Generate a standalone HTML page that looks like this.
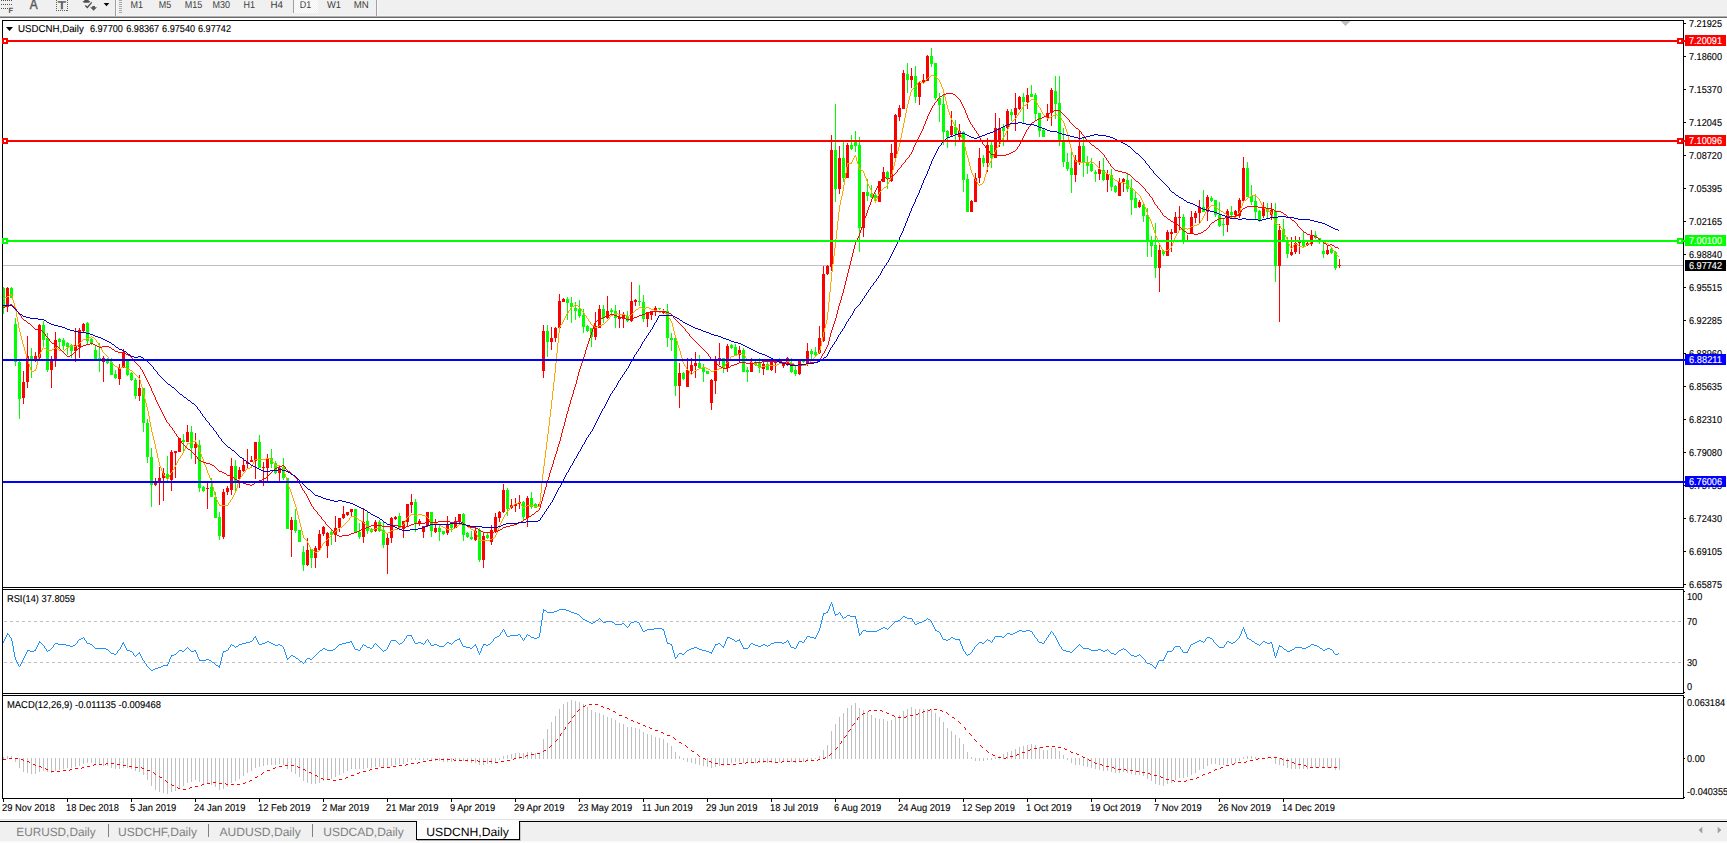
<!DOCTYPE html><html><head><meta charset="utf-8"><title>USDCNH,Daily</title>
<style>html,body{margin:0;padding:0;background:#fff}body{width:1727px;height:843px;overflow:hidden}svg{display:block}text{font-family:"Liberation Sans",sans-serif;text-rendering:geometricPrecision}</style></head><body>
<svg width="1727" height="843" viewBox="0 0 1727 843">
<rect width="1727" height="843" fill="#fff"/>
<g id="toolbar">
<rect x="0" y="0" width="1727" height="15" fill="#f0f0f0"/>
<rect x="0" y="15" width="1727" height="1" fill="#f4f4f4" shape-rendering="crispEdges"/>
<rect x="0" y="16" width="1727" height="1" fill="#b0b0b0" shape-rendering="crispEdges"/>
<rect x="0" y="17" width="1727" height="1" fill="#696969" shape-rendering="crispEdges"/>
<rect x="115" y="0" width="1" height="16" fill="#a0a0a0" shape-rendering="crispEdges"/><rect x="116" y="0" width="1" height="15" fill="#fafafa" shape-rendering="crispEdges"/>
<rect x="119" y="0" width="3" height="1" fill="#a8a8a8" shape-rendering="crispEdges"/>
<rect x="119" y="2" width="3" height="1" fill="#a8a8a8" shape-rendering="crispEdges"/>
<rect x="119" y="4" width="3" height="1" fill="#a8a8a8" shape-rendering="crispEdges"/>
<rect x="119" y="6" width="3" height="1" fill="#a8a8a8" shape-rendering="crispEdges"/>
<rect x="119" y="8" width="3" height="1" fill="#a8a8a8" shape-rendering="crispEdges"/>
<rect x="119" y="10" width="3" height="1" fill="#a8a8a8" shape-rendering="crispEdges"/>
<rect x="119" y="12" width="3" height="1" fill="#a8a8a8" shape-rendering="crispEdges"/>
<defs><pattern id="chk" width="2" height="2" patternUnits="userSpaceOnUse"><rect width="2" height="2" fill="#f0f0f0"/><rect width="1" height="1" fill="#fff"/><rect x="1" y="1" width="1" height="1" fill="#fff"/></pattern></defs>
<rect x="294" y="0" width="24" height="13" fill="url(#chk)" shape-rendering="crispEdges"/>
<rect x="293" y="0" width="1" height="13" fill="#a0a0a0" shape-rendering="crispEdges"/>
<rect x="376" y="0" width="1" height="16" fill="#a0a0a0" shape-rendering="crispEdges"/><rect x="377" y="0" width="1" height="15" fill="#fafafa" shape-rendering="crispEdges"/>
<text x="130.5" y="7.9" font-size="10" fill="#3c3c3c" textLength="12.5" lengthAdjust="spacingAndGlyphs">M1</text>
<text x="158.8" y="7.9" font-size="10" fill="#3c3c3c" textLength="12.5" lengthAdjust="spacingAndGlyphs">M5</text>
<text x="184.7" y="7.9" font-size="10" fill="#3c3c3c" textLength="17.5" lengthAdjust="spacingAndGlyphs">M15</text>
<text x="212.5" y="7.9" font-size="10" fill="#3c3c3c" textLength="17.5" lengthAdjust="spacingAndGlyphs">M30</text>
<text x="243.5" y="7.9" font-size="10" fill="#3c3c3c" textLength="11.5" lengthAdjust="spacingAndGlyphs">H1</text>
<text x="270.5" y="7.9" font-size="10" fill="#3c3c3c" textLength="12.5" lengthAdjust="spacingAndGlyphs">H4</text>
<text x="299.7" y="7.9" font-size="10" fill="#3c3c3c" textLength="11.5" lengthAdjust="spacingAndGlyphs">D1</text>
<text x="327" y="7.9" font-size="10" fill="#3c3c3c" textLength="14" lengthAdjust="spacingAndGlyphs">W1</text>
<text x="353.7" y="7.9" font-size="10" fill="#3c3c3c" textLength="15" lengthAdjust="spacingAndGlyphs">MN</text>
<path fill="#505050" shape-rendering="crispEdges" d="M1 0h1v1h-1zM1 4h1v1h-1zM3 0h1v1h-1zM3 4h1v1h-1zM5 0h1v1h-1zM5 4h1v1h-1zM7 0h1v1h-1zM7 4h1v1h-1zM9 0h1v1h-1zM9 4h1v1h-1zM11 0h1v1h-1zM11 4h1v1h-1zM1 8h1v1h-1zM3 8h1v1h-1zM5 8h1v1h-1zM7 8h1v1h-1z"/>
<text x="8.6" y="13.2" font-size="7.5" font-weight="bold" fill="#505050">F</text>
<text x="29.7" y="9" font-size="14.5" fill="#585858" stroke="#585858" stroke-width="0.4" textLength="7.9" lengthAdjust="spacingAndGlyphs">A</text>
<path fill="#606060" shape-rendering="crispEdges" d="M56 0h1v1h-1zM67 0h1v1h-1zM56 2h1v1h-1zM67 2h1v1h-1zM56 4h1v1h-1zM67 4h1v1h-1zM56 6h1v1h-1zM67 6h1v1h-1zM56 8h1v1h-1zM67 8h1v1h-1zM56 10h1v1h-1zM67 10h1v1h-1zM58 10h1v1h-1zM60 10h1v1h-1zM62 10h1v1h-1zM64 10h1v1h-1zM66 10h1v1h-1z"/>
<text x="57.8" y="8.9" font-size="11" fill="#585858" stroke="#585858" stroke-width="0.5" textLength="8.2" lengthAdjust="spacingAndGlyphs">T</text>
<path d="M84.3 0 L88.7 0 L88.7 0.9 L90.2 1.2 L90.2 2 L88.7 2.8 L84.3 2.8 L82.8 2 L82.8 1.2 L84.3 0.9 Z" fill="#505050"/>
<path d="M85.3 5.5 L87.3 7.5 L91.8 2.4" fill="none" stroke="#484848" stroke-width="1.2"/>
<path d="M92.2 6 L95 6 L95 7.2 L97 7.2 L93.6 10.8 L90.1 7.2 L92.2 7.2 Z" fill="#585858"/>
<path d="M103.7 2.9 L109.3 2.9 L106.5 6.2 Z" fill="#000"/>
</g>
<g id="frames" shape-rendering="crispEdges" fill="#000">
<rect x="2" y="20" width="1682" height="1"/>
<rect x="2" y="20" width="1" height="779"/>
<rect x="1683" y="20" width="1" height="779"/>
<rect x="2" y="587" width="1682" height="1"/>
<rect x="2" y="589" width="1682" height="1"/>
<rect x="2" y="693" width="1682" height="1"/>
<rect x="2" y="695" width="1682" height="1"/>
<rect x="2" y="798" width="1682" height="1"/>
<rect x="2" y="588" width="1682" height="1" fill="#fff"/>
<rect x="2" y="694" width="1682" height="1" fill="#fff"/>
</g>
<g id="candles" shape-rendering="crispEdges">
<rect x="3" y="265" width="1680" height="1" fill="#c0c0c0"/>
<path fill="#00ff00" d="M3 287h1v27h-1zM11 287h1v11h-1zM15 318h1v48h-1zM19 361h1v58h-1zM31 348h1v30h-1zM43 321h1v26h-1zM47 333h1v39h-1zM59 338h1v10h-1zM63 338h1v12h-1zM67 342h1v13h-1zM71 344h1v14h-1zM87 322h1v22h-1zM91 338h1v7h-1zM95 345h1v14h-1zM99 343h1v29h-1zM107 358h1v6h-1zM111 358h1v17h-1zM115 370h1v9h-1zM127 360h1v16h-1zM131 372h1v9h-1zM135 378h1v21h-1zM143 388h1v44h-1zM147 419h1v44h-1zM151 448h1v59h-1zM167 456h1v27h-1zM183 434h1v18h-1zM191 426h1v33h-1zM199 440h1v52h-1zM203 486h1v6h-1zM211 478h1v19h-1zM215 492h1v26h-1zM219 512h1v28h-1zM235 460h1v31h-1zM259 435h1v33h-1zM271 449h1v19h-1zM275 461h1v13h-1zM283 458h1v22h-1zM287 478h1v51h-1zM295 509h1v24h-1zM299 530h1v12h-1zM303 546h1v25h-1zM311 549h1v19h-1zM331 530h1v15h-1zM355 509h1v24h-1zM359 523h1v16h-1zM367 511h1v23h-1zM371 528h1v5h-1zM379 520h1v12h-1zM383 522h1v26h-1zM399 513h1v17h-1zM415 499h1v33h-1zM431 512h1v25h-1zM439 526h1v15h-1zM443 531h1v4h-1zM451 522h1v10h-1zM463 513h1v28h-1zM467 532h1v6h-1zM471 531h1v9h-1zM479 528h1v34h-1zM487 533h1v6h-1zM507 488h1v28h-1zM523 501h1v19h-1zM531 492h1v17h-1zM535 503h1v5h-1zM547 325h1v32h-1zM567 297h1v23h-1zM571 297h1v26h-1zM575 302h1v18h-1zM579 300h1v18h-1zM583 309h1v24h-1zM587 325h1v7h-1zM591 328h1v19h-1zM603 305h1v18h-1zM611 308h1v6h-1zM615 305h1v23h-1zM627 311h1v11h-1zM639 285h1v21h-1zM643 295h1v27h-1zM659 308h1v2h-1zM667 304h1v43h-1zM671 333h1v18h-1zM675 338h1v58h-1zM683 372h1v8h-1zM699 355h1v13h-1zM703 364h1v18h-1zM707 371h1v3h-1zM723 358h1v15h-1zM731 344h1v5h-1zM735 344h1v12h-1zM743 348h1v24h-1zM747 367h1v15h-1zM755 360h1v6h-1zM759 358h1v15h-1zM767 362h1v8h-1zM779 358h1v4h-1zM791 358h1v15h-1zM795 366h1v10h-1zM803 359h1v4h-1zM811 349h1v10h-1zM815 347h1v10h-1zM835 104h1v98h-1zM843 142h1v40h-1zM851 135h1v15h-1zM855 131h1v21h-1zM859 137h1v115h-1zM867 179h1v22h-1zM871 185h1v13h-1zM875 193h1v9h-1zM887 171h1v18h-1zM907 63h1v30h-1zM915 66h1v37h-1zM931 48h1v19h-1zM935 63h1v37h-1zM939 93h1v29h-1zM943 94h1v51h-1zM947 130h1v18h-1zM955 120h1v26h-1zM963 131h1v61h-1zM967 174h1v38h-1zM983 155h1v12h-1zM991 141h1v27h-1zM1003 124h1v22h-1zM1011 109h1v12h-1zM1023 93h1v31h-1zM1031 85h1v12h-1zM1035 93h1v27h-1zM1039 113h1v24h-1zM1043 129h1v8h-1zM1055 76h1v43h-1zM1059 76h1v70h-1zM1063 128h1v39h-1zM1067 153h1v18h-1zM1071 151h1v42h-1zM1083 138h1v39h-1zM1087 156h1v18h-1zM1091 158h1v14h-1zM1095 170h1v12h-1zM1103 158h1v23h-1zM1111 169h1v22h-1zM1115 185h1v8h-1zM1127 174h1v18h-1zM1131 179h1v36h-1zM1135 192h1v16h-1zM1143 203h1v19h-1zM1147 208h1v49h-1zM1151 236h1v21h-1zM1155 223h1v55h-1zM1163 250h1v6h-1zM1183 214h1v30h-1zM1203 190h1v22h-1zM1211 196h1v6h-1zM1215 200h1v17h-1zM1219 202h1v25h-1zM1223 218h1v18h-1zM1231 206h1v12h-1zM1247 162h1v35h-1zM1251 185h1v20h-1zM1255 194h1v25h-1zM1259 210h1v12h-1zM1267 203h1v15h-1zM1275 203h1v79h-1zM1283 219h1v22h-1zM1287 237h1v21h-1zM1303 232h1v16h-1zM1315 231h1v8h-1zM1319 238h1v6h-1zM1323 243h1v15h-1zM1331 248h1v6h-1zM1335 251h1v19h-1zM2 288h3v19h-3zM10 288h3v10h-3zM14 324h3v38h-3zM18 362h3v37h-3zM30 356h3v4h-3zM42 325h3v15h-3zM46 338h3v32h-3zM58 339h3v3h-3zM62 340h3v6h-3zM66 343h3v4h-3zM70 345h3v6h-3zM86 323h3v18h-3zM90 339h3v5h-3zM94 350h3v9h-3zM98 358h3v1h-3zM106 360h3v3h-3zM110 362h3v13h-3zM114 374h3v4h-3zM126 361h3v14h-3zM130 373h3v7h-3zM134 380h3v16h-3zM142 388h3v35h-3zM146 423h3v34h-3zM150 457h3v28h-3zM166 474h3v4h-3zM182 440h3v2h-3zM190 432h3v16h-3zM198 445h3v43h-3zM202 487h3v4h-3zM210 487h3v10h-3zM214 497h3v21h-3zM218 517h3v19h-3zM234 466h3v15h-3zM258 442h3v26h-3zM270 458h3v6h-3zM274 463h3v10h-3zM282 467h3v11h-3zM286 478h3v51h-3zM294 520h3v11h-3zM298 530h3v12h-3zM302 552h3v13h-3zM310 549h3v9h-3zM330 532h3v3h-3zM354 509h3v23h-3zM358 532h3v5h-3zM366 521h3v10h-3zM370 529h3v3h-3zM378 522h3v9h-3zM382 530h3v15h-3zM398 516h3v12h-3zM414 502h3v21h-3zM430 512h3v19h-3zM438 528h3v4h-3zM442 531h3v3h-3zM450 524h3v4h-3zM462 514h3v21h-3zM466 533h3v4h-3zM470 537h3v2h-3zM478 530h3v30h-3zM486 535h3v3h-3zM506 490h3v19h-3zM522 502h3v15h-3zM530 498h3v9h-3zM534 504h3v4h-3zM546 331h3v11h-3zM566 299h3v4h-3zM570 303h3v4h-3zM574 308h3v3h-3zM578 309h3v7h-3zM582 315h3v12h-3zM586 326h3v5h-3zM590 328h3v9h-3zM602 309h3v9h-3zM610 310h3v2h-3zM614 311h3v7h-3zM626 316h3v5h-3zM638 301h3v1h-3zM642 302h3v17h-3zM658 308h3v1h-3zM666 311h3v27h-3zM670 338h3v2h-3zM674 338h3v48h-3zM682 373h3v6h-3zM698 363h3v5h-3zM702 367h3v5h-3zM706 371h3v3h-3zM722 358h3v10h-3zM730 345h3v3h-3zM734 347h3v8h-3zM742 350h3v22h-3zM746 370h3v2h-3zM754 362h3v3h-3zM758 363h3v5h-3zM766 364h3v6h-3zM778 359h3v3h-3zM790 363h3v9h-3zM794 370h3v4h-3zM802 360h3v2h-3zM810 351h3v3h-3zM814 352h3v3h-3zM834 150h3v39h-3zM842 158h3v20h-3zM850 145h3v4h-3zM854 142h3v4h-3zM858 145h3v83h-3zM866 192h3v4h-3zM870 194h3v3h-3zM874 195h3v3h-3zM886 172h3v7h-3zM906 74h3v6h-3zM914 76h3v21h-3zM930 56h3v8h-3zM934 63h3v35h-3zM938 98h3v7h-3zM942 104h3v28h-3zM946 131h3v6h-3zM954 127h3v7h-3zM962 132h3v48h-3zM966 179h3v33h-3zM982 158h3v5h-3zM990 145h3v13h-3zM1002 127h3v4h-3zM1010 112h3v3h-3zM1022 97h3v5h-3zM1030 94h3v3h-3zM1034 95h3v19h-3zM1038 113h3v18h-3zM1042 130h3v7h-3zM1054 91h3v13h-3zM1058 103h3v37h-3zM1062 141h3v21h-3zM1066 162h3v7h-3zM1070 168h3v7h-3zM1082 146h3v17h-3zM1086 162h3v4h-3zM1090 164h3v7h-3zM1094 172h3v2h-3zM1102 170h3v10h-3zM1110 175h3v12h-3zM1114 186h3v6h-3zM1126 180h3v9h-3zM1130 188h3v12h-3zM1134 198h3v10h-3zM1142 205h3v11h-3zM1146 215h3v26h-3zM1150 241h3v5h-3zM1154 245h3v23h-3zM1162 251h3v3h-3zM1182 217h3v23h-3zM1202 207h3v5h-3zM1210 198h3v3h-3zM1214 200h3v15h-3zM1218 215h3v11h-3zM1222 224h3v1h-3zM1230 212h3v3h-3zM1246 168h3v29h-3zM1250 196h3v6h-3zM1254 201h3v11h-3zM1258 211h3v9h-3zM1266 208h3v4h-3zM1274 211h3v55h-3zM1282 229h3v11h-3zM1286 241h3v13h-3zM1302 241h3v5h-3zM1314 235h3v3h-3zM1318 238h3v4h-3zM1322 251h3v3h-3zM1330 249h3v4h-3zM1334 252h3v16h-3z"/>
<path fill="#ff0000" d="M7 287h1v25h-1zM23 371h1v33h-1zM27 336h1v52h-1zM35 352h1v10h-1zM39 324h1v35h-1zM51 356h1v32h-1zM55 332h1v35h-1zM75 328h1v34h-1zM79 328h1v30h-1zM83 323h1v9h-1zM103 356h1v26h-1zM119 364h1v21h-1zM123 349h1v19h-1zM139 375h1v26h-1zM155 478h1v8h-1zM159 467h1v38h-1zM163 468h1v33h-1zM171 450h1v41h-1zM175 451h1v27h-1zM179 438h1v14h-1zM187 425h1v17h-1zM195 433h1v31h-1zM207 482h1v27h-1zM223 489h1v50h-1zM227 486h1v9h-1zM231 458h1v37h-1zM239 467h1v21h-1zM243 458h1v14h-1zM247 449h1v20h-1zM251 456h1v6h-1zM255 442h1v37h-1zM263 462h1v24h-1zM267 454h1v28h-1zM279 467h1v16h-1zM291 517h1v40h-1zM307 538h1v28h-1zM315 546h1v22h-1zM319 530h1v20h-1zM323 526h1v10h-1zM327 532h1v26h-1zM335 516h1v26h-1zM339 518h1v14h-1zM343 506h1v13h-1zM347 512h1v4h-1zM351 509h1v7h-1zM363 508h1v35h-1zM375 520h1v12h-1zM387 533h1v41h-1zM391 517h1v26h-1zM395 516h1v4h-1zM403 521h1v17h-1zM407 504h1v23h-1zM411 494h1v19h-1zM419 519h1v7h-1zM423 526h1v12h-1zM427 512h1v15h-1zM435 519h1v14h-1zM447 516h1v19h-1zM455 517h1v11h-1zM459 514h1v9h-1zM475 528h1v13h-1zM483 532h1v36h-1zM491 525h1v20h-1zM495 513h1v20h-1zM499 511h1v11h-1zM503 484h1v29h-1zM511 499h1v10h-1zM515 498h1v14h-1zM519 495h1v14h-1zM527 496h1v31h-1zM539 503h1v4h-1zM543 325h1v53h-1zM551 327h1v23h-1zM555 327h1v15h-1zM559 294h1v34h-1zM563 298h1v4h-1zM595 312h1v28h-1zM599 305h1v23h-1zM607 296h1v23h-1zM619 310h1v18h-1zM623 312h1v16h-1zM631 282h1v40h-1zM635 299h1v7h-1zM647 312h1v15h-1zM651 311h1v9h-1zM655 306h1v10h-1zM663 309h1v5h-1zM679 363h1v45h-1zM687 358h1v29h-1zM691 358h1v16h-1zM695 352h1v26h-1zM711 379h1v31h-1zM715 356h1v38h-1zM719 343h1v22h-1zM727 344h1v28h-1zM739 346h1v16h-1zM751 358h1v14h-1zM763 362h1v13h-1zM771 360h1v11h-1zM775 360h1v13h-1zM783 362h1v6h-1zM787 357h1v9h-1zM799 360h1v15h-1zM807 343h1v23h-1zM819 326h1v28h-1zM823 266h1v76h-1zM827 265h1v10h-1zM831 135h1v136h-1zM839 146h1v48h-1zM847 143h1v35h-1zM863 192h1v45h-1zM879 181h1v21h-1zM883 167h1v15h-1zM891 144h1v38h-1zM895 114h1v45h-1zM899 105h1v16h-1zM903 70h1v39h-1zM911 68h1v20h-1zM919 81h1v24h-1zM923 74h1v10h-1zM927 55h1v26h-1zM951 111h1v25h-1zM959 124h1v16h-1zM971 200h1v12h-1zM975 173h1v29h-1zM979 148h1v35h-1zM987 138h1v34h-1zM995 113h1v45h-1zM999 118h1v29h-1zM1007 109h1v31h-1zM1015 93h1v38h-1zM1019 96h1v14h-1zM1027 88h1v21h-1zM1047 104h1v17h-1zM1051 88h1v38h-1zM1075 155h1v27h-1zM1079 130h1v35h-1zM1099 161h1v19h-1zM1107 170h1v22h-1zM1119 178h1v18h-1zM1123 178h1v14h-1zM1139 200h1v8h-1zM1159 245h1v47h-1zM1167 230h1v26h-1zM1171 229h1v23h-1zM1175 212h1v21h-1zM1179 206h1v24h-1zM1187 235h1v7h-1zM1191 211h1v23h-1zM1195 211h1v12h-1zM1199 200h1v23h-1zM1207 195h1v26h-1zM1227 209h1v23h-1zM1235 210h1v6h-1zM1239 198h1v20h-1zM1243 157h1v44h-1zM1263 202h1v16h-1zM1271 203h1v17h-1zM1279 224h1v98h-1zM1291 237h1v19h-1zM1295 236h1v18h-1zM1299 237h1v17h-1zM1307 242h1v4h-1zM1311 230h1v16h-1zM1327 245h1v10h-1zM1339 259h1v9h-1zM6 288h3v19h-3zM22 382h3v16h-3zM26 356h3v26h-3zM34 356h3v5h-3zM38 325h3v33h-3zM50 360h3v10h-3zM54 340h3v19h-3zM74 345h3v6h-3zM78 330h3v17h-3zM82 324h3v7h-3zM102 358h3v4h-3zM118 368h3v11h-3zM122 352h3v16h-3zM138 388h3v8h-3zM154 482h3v3h-3zM158 478h3v5h-3zM162 473h3v5h-3zM170 452h3v28h-3zM174 451h3v2h-3zM178 438h3v14h-3zM186 432h3v10h-3zM194 444h3v4h-3zM206 488h3v1h-3zM222 492h3v45h-3zM226 488h3v4h-3zM230 466h3v24h-3zM238 470h3v9h-3zM242 465h3v6h-3zM246 462h3v2h-3zM250 460h3v2h-3zM254 442h3v19h-3zM262 467h3v1h-3zM266 458h3v10h-3zM278 468h3v5h-3zM290 520h3v10h-3zM306 550h3v15h-3zM314 548h3v10h-3zM318 534h3v16h-3zM322 527h3v7h-3zM326 533h3v13h-3zM334 528h3v7h-3zM338 518h3v10h-3zM342 514h3v4h-3zM346 512h3v3h-3zM350 509h3v3h-3zM362 522h3v15h-3zM374 522h3v9h-3zM386 538h3v7h-3zM390 518h3v20h-3zM394 517h3v2h-3zM402 521h3v8h-3zM406 504h3v18h-3zM410 502h3v3h-3zM418 521h3v3h-3zM422 526h3v6h-3zM426 512h3v14h-3zM434 528h3v4h-3zM446 524h3v9h-3zM454 521h3v7h-3zM458 514h3v8h-3zM474 531h3v9h-3zM482 536h3v24h-3zM490 530h3v12h-3zM494 517h3v15h-3zM498 512h3v6h-3zM502 490h3v22h-3zM510 505h3v3h-3zM514 504h3v2h-3zM518 502h3v2h-3zM526 498h3v20h-3zM538 504h3v2h-3zM542 331h3v40h-3zM550 338h3v4h-3zM554 328h3v10h-3zM558 301h3v27h-3zM562 299h3v3h-3zM594 326h3v11h-3zM598 309h3v19h-3zM606 311h3v7h-3zM618 317h3v2h-3zM622 314h3v5h-3zM630 301h3v20h-3zM634 300h3v2h-3zM646 312h3v7h-3zM650 312h3v3h-3zM654 308h3v3h-3zM662 311h3v2h-3zM678 373h3v13h-3zM686 370h3v17h-3zM690 365h3v6h-3zM694 363h3v3h-3zM710 380h3v23h-3zM714 360h3v21h-3zM718 358h3v3h-3zM726 346h3v22h-3zM738 350h3v5h-3zM750 362h3v10h-3zM762 364h3v5h-3zM770 362h3v8h-3zM774 361h3v2h-3zM782 363h3v3h-3zM786 358h3v5h-3zM798 361h3v13h-3zM806 351h3v12h-3zM818 338h3v15h-3zM822 274h3v67h-3zM826 266h3v8h-3zM830 150h3v117h-3zM838 158h3v31h-3zM846 145h3v33h-3zM862 192h3v36h-3zM878 181h3v21h-3zM882 172h3v10h-3zM890 153h3v28h-3zM894 115h3v43h-3zM898 108h3v9h-3zM902 73h3v36h-3zM910 76h3v4h-3zM918 83h3v14h-3zM922 80h3v3h-3zM926 56h3v25h-3zM950 126h3v9h-3zM958 131h3v6h-3zM970 201h3v11h-3zM974 178h3v24h-3zM978 158h3v20h-3zM986 145h3v18h-3zM994 128h3v30h-3zM998 128h3v14h-3zM1006 111h3v17h-3zM1014 108h3v7h-3zM1018 97h3v12h-3zM1026 95h3v7h-3zM1046 113h3v5h-3zM1050 90h3v23h-3zM1074 160h3v15h-3zM1078 146h3v16h-3zM1098 169h3v5h-3zM1106 174h3v6h-3zM1118 182h3v14h-3zM1122 179h3v3h-3zM1138 202h3v5h-3zM1158 250h3v18h-3zM1166 232h3v24h-3zM1170 232h3v2h-3zM1174 217h3v16h-3zM1178 217h3v1h-3zM1186 240h3v1h-3zM1190 217h3v17h-3zM1194 213h3v5h-3zM1198 207h3v6h-3zM1206 197h3v15h-3zM1226 211h3v14h-3zM1234 211h3v4h-3zM1238 200h3v16h-3zM1242 168h3v33h-3zM1262 207h3v9h-3zM1270 210h3v5h-3zM1278 230h3v36h-3zM1290 252h3v3h-3zM1294 243h3v9h-3zM1298 242h3v1h-3zM1306 243h3v2h-3zM1310 235h3v9h-3zM1326 250h3v4h-3zM1338 265h3v1h-3z"/>
</g>
<g id="mas" shape-rendering="crispEdges">
<path fill="#ffa500" d="M3 298h2v1h-2zM5 297h2v1h-2zM7 296h2v1h-2zM9 295h2v1h-2zM11 294h1v2h-1zM12 296h1v4h-1zM13 300h1v3h-1zM14 303h1v4h-1zM15 307h1v4h-1zM16 311h1v6h-1zM17 317h1v5h-1zM18 322h1v6h-1zM19 328h1v4h-1zM20 332h1v4h-1zM21 336h1v4h-1zM22 340h1v4h-1zM23 344h1v3h-1zM24 347h1v4h-1zM25 351h1v3h-1zM26 354h1v4h-1zM27 358h1v3h-1zM28 361h1v3h-1zM29 364h1v3h-1zM30 367h1v3h-1zM31 370h1v2h-1zM32 371h2v1h-2zM34 370h1v1h-1zM35 369h1v2h-1zM36 365h1v4h-1zM37 361h1v4h-1zM38 357h1v4h-1zM39 354h1v3h-1zM40 352h1v2h-1zM41 350h1v2h-1zM42 348h1v2h-1zM43 347h1v1h-1zM44 348h2v1h-2zM46 349h1v1h-1zM47 350h5v1h-5zM52 349h2v1h-2zM54 348h1v1h-1zM55 347h1v1h-1zM56 348h2v1h-2zM58 349h1v1h-1zM59 350h3v1h-3zM62 351h2v1h-2zM64 350h1v1h-1zM65 349h1v1h-1zM66 348h1v1h-1zM67 347h2v1h-2zM69 346h2v1h-2zM71 345h3v1h-3zM74 346h2v1h-2zM76 345h2v1h-2zM78 344h1v1h-1zM79 343h1v1h-1zM80 342h1v1h-1zM81 341h1v1h-1zM82 340h1v1h-1zM83 339h3v1h-3zM86 338h3v1h-3zM89 337h2v1h-2zM91 336h1v1h-1zM92 337h2v1h-2zM94 338h1v1h-1zM95 339h1v1h-1zM96 340h1v2h-1zM97 342h1v1h-1zM98 343h1v2h-1zM99 345h1v1h-1zM100 346h1v2h-1zM101 348h1v2h-1zM102 350h1v2h-1zM103 352h1v1h-1zM104 353h1v1h-1zM105 354h1v1h-1zM106 355h1v1h-1zM107 356h1v1h-1zM108 357h1v2h-1zM109 359h1v1h-1zM110 360h1v2h-1zM111 362h1v1h-1zM112 363h1v1h-1zM113 364h1v1h-1zM114 365h1v1h-1zM115 366h2v1h-2zM117 367h2v1h-2zM119 368h2v1h-2zM121 367h2v1h-2zM123 366h1v1h-1zM124 367h2v1h-2zM126 368h1v1h-1zM127 369h3v1h-3zM130 370h2v1h-2zM132 371h1v1h-1zM133 372h1v1h-1zM134 373h1v1h-1zM135 374h1v1h-1zM136 375h1v1h-1zM137 376h1v1h-1zM138 377h1v1h-1zM139 378h1v2h-1zM140 380h1v4h-1zM141 384h1v3h-1zM142 387h1v4h-1zM143 391h1v4h-1zM144 395h1v4h-1zM145 399h1v4h-1zM146 403h1v4h-1zM147 407h1v4h-1zM148 411h1v5h-1zM149 416h1v6h-1zM150 422h1v5h-1zM151 427h1v5h-1zM152 432h1v4h-1zM153 436h1v4h-1zM154 440h1v4h-1zM155 444h1v5h-1zM156 449h1v4h-1zM157 453h1v5h-1zM158 458h1v4h-1zM159 462h1v4h-1zM160 466h1v2h-1zM161 468h1v3h-1zM162 471h1v2h-1zM163 473h1v2h-1zM164 475h1v1h-1zM165 476h1v2h-1zM166 478h1v1h-1zM167 479h1v1h-1zM168 477h1v2h-1zM169 475h1v2h-1zM170 473h1v2h-1zM171 472h1v1h-1zM172 470h1v2h-1zM173 469h1v1h-1zM174 467h1v2h-1zM175 465h1v2h-1zM176 463h1v2h-1zM177 461h1v2h-1zM178 459h1v2h-1zM179 458h1v1h-1zM180 456h1v2h-1zM181 455h1v1h-1zM182 453h1v2h-1zM183 451h1v2h-1zM184 449h1v2h-1zM185 447h1v2h-1zM186 445h1v2h-1zM187 443h1v2h-1zM188 443h2v1h-2zM190 442h3v1h-3zM193 441h2v1h-2zM195 440h1v2h-1zM196 442h1v2h-1zM197 444h1v3h-1zM198 447h1v2h-1zM199 449h1v3h-1zM200 452h1v2h-1zM201 454h1v3h-1zM202 457h1v2h-1zM203 459h1v3h-1zM204 462h1v3h-1zM205 465h1v2h-1zM206 467h1v3h-1zM207 470h1v3h-1zM208 473h1v2h-1zM209 475h1v3h-1zM210 478h1v2h-1zM211 480h1v3h-1zM212 483h1v4h-1zM213 487h1v4h-1zM214 491h1v4h-1zM215 495h1v3h-1zM216 498h1v2h-1zM217 500h1v2h-1zM218 502h1v2h-1zM219 504h1v2h-1zM220 505h8v1h-8zM228 503h1v2h-1zM229 502h1v1h-1zM230 500h1v2h-1zM231 499h1v1h-1zM232 497h1v2h-1zM233 495h1v2h-1zM234 493h1v2h-1zM235 491h1v2h-1zM236 488h1v3h-1zM237 484h1v4h-1zM238 481h1v3h-1zM239 479h1v2h-1zM240 477h1v2h-1zM241 476h1v1h-1zM242 474h1v2h-1zM243 473h1v1h-1zM244 472h1v1h-1zM245 470h1v2h-1zM246 469h1v1h-1zM247 468h3v1h-3zM250 467h1v1h-1zM251 466h1v2h-1zM252 464h1v2h-1zM253 462h1v2h-1zM254 460h1v2h-1zM255 459h11v1h-11zM266 458h4v1h-4zM270 459h2v1h-2zM272 460h1v2h-1zM273 462h1v1h-1zM274 463h1v2h-1zM275 465h5v1h-5zM280 466h2v1h-2zM282 467h1v1h-1zM283 468h1v2h-1zM284 470h1v4h-1zM285 474h1v3h-1zM286 477h1v4h-1zM287 481h1v3h-1zM288 484h1v3h-1zM289 487h1v2h-1zM290 489h1v3h-1zM291 492h1v3h-1zM292 495h1v3h-1zM293 498h1v3h-1zM294 501h1v3h-1zM295 504h1v3h-1zM296 507h1v4h-1zM297 511h1v4h-1zM298 515h1v4h-1zM299 519h1v4h-1zM300 523h1v4h-1zM301 527h1v4h-1zM302 531h1v4h-1zM303 535h1v3h-1zM304 538h1v1h-1zM305 539h1v1h-1zM306 540h1v1h-1zM307 541h1v2h-1zM308 543h1v2h-1zM309 545h1v2h-1zM310 547h1v2h-1zM311 549h1v1h-1zM312 550h2v1h-2zM314 551h1v1h-1zM315 552h2v1h-2zM317 551h2v1h-2zM319 550h1v1h-1zM320 548h1v2h-1zM321 546h1v2h-1zM322 544h1v2h-1zM323 543h1v1h-1zM324 542h1v1h-1zM325 541h1v1h-1zM326 540h1v1h-1zM327 539h1v1h-1zM328 538h1v1h-1zM329 537h1v1h-1zM330 536h1v1h-1zM331 535h1v1h-1zM332 534h1v1h-1zM333 533h1v1h-1zM334 532h1v1h-1zM335 531h1v1h-1zM336 530h2v1h-2zM338 529h1v1h-1zM339 528h1v1h-1zM340 527h2v1h-2zM342 526h1v1h-1zM343 525h1v1h-1zM344 524h1v1h-1zM345 523h1v1h-1zM346 522h1v1h-1zM347 521h1v1h-1zM348 520h1v1h-1zM349 518h1v2h-1zM350 517h1v1h-1zM351 516h5v1h-5zM356 517h1v1h-1zM357 518h1v1h-1zM358 519h1v1h-1zM359 520h2v1h-2zM361 521h2v1h-2zM363 522h1v1h-1zM364 523h1v1h-1zM365 524h1v1h-1zM366 525h1v1h-1zM367 526h1v1h-1zM368 527h1v1h-1zM369 528h1v1h-1zM370 529h1v1h-1zM371 530h2v1h-2zM373 529h2v1h-2zM375 528h3v1h-3zM378 527h2v1h-2zM380 528h1v1h-1zM381 529h1v2h-1zM382 531h1v1h-1zM383 532h3v1h-3zM386 533h2v1h-2zM388 532h2v1h-2zM390 531h1v1h-1zM391 530h3v1h-3zM394 529h4v1h-4zM398 528h2v1h-2zM400 527h1v1h-1zM401 526h1v1h-1zM402 525h1v1h-1zM403 524h1v1h-1zM404 522h1v2h-1zM405 520h1v2h-1zM406 518h1v2h-1zM407 517h1v1h-1zM408 516h2v1h-2zM410 515h1v1h-1zM411 514h3v1h-3zM414 515h4v1h-4zM418 514h4v1h-4zM422 515h3v1h-3zM425 516h2v1h-2zM427 517h1v1h-1zM428 518h1v1h-1zM429 519h1v2h-1zM430 521h1v1h-1zM431 522h3v1h-3zM434 523h3v1h-3zM437 524h2v1h-2zM439 525h2v1h-2zM441 526h2v1h-2zM443 527h2v1h-2zM445 528h2v1h-2zM447 529h6v1h-6zM453 528h2v1h-2zM455 527h1v1h-1zM456 526h2v1h-2zM458 525h1v1h-1zM459 524h6v1h-6zM465 525h2v1h-2zM467 526h1v1h-1zM468 527h2v1h-2zM470 528h1v1h-1zM471 529h2v1h-2zM473 530h2v1h-2zM475 531h1v2h-1zM476 533h1v2h-1zM477 535h1v2h-1zM478 537h1v2h-1zM479 539h1v2h-1zM480 540h10v1h-10zM490 539h2v1h-2zM492 538h2v1h-2zM494 537h1v1h-1zM495 535h1v2h-1zM496 533h1v2h-1zM497 530h1v3h-1zM498 528h1v2h-1zM499 525h1v3h-1zM500 523h1v2h-1zM501 521h1v2h-1zM502 519h1v2h-1zM503 517h1v2h-1zM504 515h1v2h-1zM505 514h1v1h-1zM506 512h1v2h-1zM507 511h1v1h-1zM508 510h1v1h-1zM509 508h1v2h-1zM510 507h1v1h-1zM511 506h1v1h-1zM512 505h2v1h-2zM514 504h1v1h-1zM515 503h3v1h-3zM518 502h2v1h-2zM520 503h1v1h-1zM521 504h1v2h-1zM522 506h1v1h-1zM523 507h2v1h-2zM525 506h2v1h-2zM527 505h7v1h-7zM534 506h5v1h-5zM539 502h1v5h-1zM540 493h1v9h-1zM541 483h1v10h-1zM542 474h1v9h-1zM543 466h1v8h-1zM544 458h1v8h-1zM545 450h1v8h-1zM546 442h1v8h-1zM547 434h1v8h-1zM548 426h1v8h-1zM549 417h1v9h-1zM550 409h1v8h-1zM551 400h1v9h-1zM552 391h1v9h-1zM553 382h1v9h-1zM554 373h1v9h-1zM555 363h1v10h-1zM556 353h1v10h-1zM557 343h1v10h-1zM558 333h1v10h-1zM559 327h1v6h-1zM560 325h1v2h-1zM561 324h1v1h-1zM562 322h1v2h-1zM563 320h1v2h-1zM564 318h1v2h-1zM565 316h1v2h-1zM566 314h1v2h-1zM567 313h1v1h-1zM568 311h1v2h-1zM569 310h1v1h-1zM570 308h1v2h-1zM571 307h1v1h-1zM572 306h2v1h-2zM574 305h1v1h-1zM575 304h1v1h-1zM576 305h2v1h-2zM578 306h1v1h-1zM579 307h1v1h-1zM580 308h1v1h-1zM581 309h1v2h-1zM582 311h1v1h-1zM583 312h1v1h-1zM584 313h1v2h-1zM585 315h1v1h-1zM586 316h1v2h-1zM587 318h1v1h-1zM588 319h1v2h-1zM589 321h1v1h-1zM590 322h1v2h-1zM591 324h1v1h-1zM592 325h2v1h-2zM594 326h1v1h-1zM595 327h2v1h-2zM597 326h2v1h-2zM599 325h3v1h-3zM602 324h2v1h-2zM604 323h1v1h-1zM605 322h1v1h-1zM606 321h1v1h-1zM607 320h1v1h-1zM608 319h1v1h-1zM609 317h1v2h-1zM610 316h1v1h-1zM611 315h2v1h-2zM613 314h2v1h-2zM615 313h3v1h-3zM618 314h7v1h-7zM625 315h2v1h-2zM627 316h2v1h-2zM629 315h2v1h-2zM631 314h1v1h-1zM632 313h1v1h-1zM633 312h1v1h-1zM634 311h1v1h-1zM635 310h1v1h-1zM636 309h2v1h-2zM638 308h1v1h-1zM639 307h3v1h-3zM642 308h4v1h-4zM646 307h3v1h-3zM649 308h2v1h-2zM651 309h3v1h-3zM654 310h3v1h-3zM657 311h2v1h-2zM659 312h2v1h-2zM661 311h2v1h-2zM663 310h1v1h-1zM664 311h1v1h-1zM665 312h1v2h-1zM666 314h1v1h-1zM667 315h1v1h-1zM668 316h1v2h-1zM669 318h1v1h-1zM670 319h1v2h-1zM671 321h1v2h-1zM672 323h1v4h-1zM673 327h1v4h-1zM674 331h1v4h-1zM675 335h1v3h-1zM676 338h1v3h-1zM677 341h1v4h-1zM678 345h1v3h-1zM679 348h1v3h-1zM680 351h1v4h-1zM681 355h1v3h-1zM682 358h1v4h-1zM683 362h1v2h-1zM684 364h1v2h-1zM685 366h1v1h-1zM686 367h1v2h-1zM687 369h1v1h-1zM688 370h1v1h-1zM689 371h1v2h-1zM690 373h1v1h-1zM691 374h1v1h-1zM692 373h1v1h-1zM693 372h1v1h-1zM694 371h1v1h-1zM695 370h2v1h-2zM697 369h2v1h-2zM699 368h3v1h-3zM702 367h4v1h-4zM706 368h2v1h-2zM708 369h2v1h-2zM710 370h1v1h-1zM711 371h3v1h-3zM714 370h3v1h-3zM717 369h2v1h-2zM719 368h3v1h-3zM722 367h2v1h-2zM724 366h1v1h-1zM725 364h1v2h-1zM726 363h1v1h-1zM727 362h1v1h-1zM728 360h1v2h-1zM729 359h1v1h-1zM730 357h1v2h-1zM731 356h3v1h-3zM734 355h3v1h-3zM737 354h2v1h-2zM739 353h3v1h-3zM742 354h2v1h-2zM744 355h1v1h-1zM745 356h1v2h-1zM746 358h1v1h-1zM747 359h1v1h-1zM748 360h2v1h-2zM750 361h1v1h-1zM751 362h2v1h-2zM753 363h2v1h-2zM755 364h1v1h-1zM756 365h2v1h-2zM758 366h1v1h-1zM759 367h3v1h-3zM762 366h4v1h-4zM766 365h11v1h-11zM777 364h2v1h-2zM779 363h6v1h-6zM785 362h2v1h-2zM787 361h3v1h-3zM790 362h2v1h-2zM792 363h2v1h-2zM794 364h1v1h-1zM795 365h11v1h-11zM806 364h2v1h-2zM808 363h1v1h-1zM809 362h1v1h-1zM810 361h1v1h-1zM811 360h1v1h-1zM812 359h1v1h-1zM813 358h1v1h-1zM814 357h1v1h-1zM815 356h1v1h-1zM816 355h1v1h-1zM817 354h1v1h-1zM818 353h1v1h-1zM819 350h1v3h-1zM820 346h1v4h-1zM821 341h1v5h-1zM822 337h1v4h-1zM823 332h1v5h-1zM824 328h1v4h-1zM825 324h1v4h-1zM826 320h1v4h-1zM827 312h1v8h-1zM828 302h1v10h-1zM829 292h1v10h-1zM830 282h1v10h-1zM831 272h1v10h-1zM832 264h1v8h-1zM833 256h1v8h-1zM834 248h1v8h-1zM835 239h1v9h-1zM836 230h1v9h-1zM837 221h1v9h-1zM838 212h1v9h-1zM839 205h1v7h-1zM840 200h1v5h-1zM841 196h1v4h-1zM842 191h1v5h-1zM843 185h1v6h-1zM844 179h1v6h-1zM845 173h1v6h-1zM846 167h1v6h-1zM847 163h1v4h-1zM848 163h3v1h-3zM851 162h1v2h-1zM852 160h1v2h-1zM853 158h1v2h-1zM854 156h1v2h-1zM855 155h1v2h-1zM856 157h1v4h-1zM857 161h1v3h-1zM858 164h1v4h-1zM859 168h1v2h-1zM860 169h1v1h-1zM861 170h2v1h-2zM863 171h1v2h-1zM864 173h1v3h-1zM865 176h1v2h-1zM866 178h1v3h-1zM867 181h1v3h-1zM868 184h1v2h-1zM869 186h1v2h-1zM870 188h1v2h-1zM871 190h1v3h-1zM872 193h1v3h-1zM873 196h1v2h-1zM874 198h1v3h-1zM875 201h1v2h-1zM876 199h1v2h-1zM877 196h1v3h-1zM878 194h1v2h-1zM879 192h1v2h-1zM880 191h1v1h-1zM881 190h1v1h-1zM882 189h1v1h-1zM883 188h1v1h-1zM884 187h2v1h-2zM886 186h1v1h-1zM887 184h1v2h-1zM888 182h1v2h-1zM889 180h1v2h-1zM890 178h1v2h-1zM891 174h1v4h-1zM892 170h1v4h-1zM893 166h1v4h-1zM894 162h1v4h-1zM895 158h1v4h-1zM896 154h1v4h-1zM897 151h1v3h-1zM898 147h1v4h-1zM899 143h1v4h-1zM900 138h1v5h-1zM901 133h1v5h-1zM902 128h1v5h-1zM903 123h1v5h-1zM904 118h1v5h-1zM905 113h1v5h-1zM906 108h1v5h-1zM907 104h1v4h-1zM908 100h1v4h-1zM909 96h1v4h-1zM910 92h1v4h-1zM911 90h1v2h-1zM912 89h1v1h-1zM913 88h1v1h-1zM914 87h1v1h-1zM915 86h1v1h-1zM916 85h1v1h-1zM917 83h1v2h-1zM918 82h1v1h-1zM919 81h2v1h-2zM921 82h2v1h-2zM923 83h1v1h-1zM924 82h1v1h-1zM925 80h1v2h-1zM926 79h1v1h-1zM927 78h1v1h-1zM928 77h2v1h-2zM930 76h1v1h-1zM931 75h3v1h-3zM934 76h2v1h-2zM936 77h1v1h-1zM937 78h1v1h-1zM938 79h1v1h-1zM939 80h1v2h-1zM940 82h1v2h-1zM941 84h1v3h-1zM942 87h1v2h-1zM943 89h1v4h-1zM944 93h1v4h-1zM945 97h1v4h-1zM946 101h1v4h-1zM947 105h1v4h-1zM948 109h1v3h-1zM949 112h1v3h-1zM950 115h1v3h-1zM951 118h1v2h-1zM952 120h1v2h-1zM953 122h1v2h-1zM954 124h1v2h-1zM955 126h1v1h-1zM956 127h1v1h-1zM957 128h1v2h-1zM958 130h1v1h-1zM959 131h1v2h-1zM960 133h1v2h-1zM961 135h1v3h-1zM962 138h1v2h-1zM963 140h1v3h-1zM964 143h1v4h-1zM965 147h1v4h-1zM966 151h1v4h-1zM967 155h1v3h-1zM968 158h1v4h-1zM969 162h1v4h-1zM970 166h1v4h-1zM971 170h1v3h-1zM972 173h1v2h-1zM973 175h1v2h-1zM974 177h1v2h-1zM975 179h1v2h-1zM976 181h1v1h-1zM977 182h1v2h-1zM978 184h1v1h-1zM979 185h1v1h-1zM980 184h2v1h-2zM982 183h1v1h-1zM983 181h1v2h-1zM984 177h1v4h-1zM985 174h1v3h-1zM986 170h1v4h-1zM987 167h1v3h-1zM988 165h1v2h-1zM989 163h1v2h-1zM990 161h1v2h-1zM991 159h1v2h-1zM992 157h1v2h-1zM993 154h1v3h-1zM994 152h1v2h-1zM995 150h1v2h-1zM996 148h1v2h-1zM997 147h1v1h-1zM998 145h1v2h-1zM999 144h1v1h-1zM1000 142h1v2h-1zM1001 140h1v2h-1zM1002 138h1v2h-1zM1003 137h1v1h-1zM1004 135h1v2h-1zM1005 133h1v2h-1zM1006 131h1v2h-1zM1007 129h1v2h-1zM1008 127h1v2h-1zM1009 125h1v2h-1zM1010 123h1v2h-1zM1011 122h1v1h-1zM1012 121h1v1h-1zM1013 120h1v1h-1zM1014 119h1v1h-1zM1015 118h1v1h-1zM1016 116h1v2h-1zM1017 115h1v1h-1zM1018 113h1v2h-1zM1019 112h1v1h-1zM1020 110h1v2h-1zM1021 109h1v1h-1zM1022 107h1v2h-1zM1023 106h1v1h-1zM1024 105h2v1h-2zM1026 104h1v1h-1zM1027 103h1v1h-1zM1028 102h1v1h-1zM1029 101h1v1h-1zM1030 100h1v1h-1zM1031 99h3v1h-3zM1034 100h2v1h-2zM1036 101h1v2h-1zM1037 103h1v2h-1zM1038 105h1v2h-1zM1039 107h1v1h-1zM1040 108h1v2h-1zM1041 110h1v2h-1zM1042 112h1v2h-1zM1043 114h1v1h-1zM1044 115h1v1h-1zM1045 116h1v1h-1zM1046 117h1v1h-1zM1047 118h2v1h-2zM1049 117h2v1h-2zM1051 116h2v1h-2zM1053 115h2v1h-2zM1055 114h2v1h-2zM1057 115h2v1h-2zM1059 116h1v1h-1zM1060 117h1v1h-1zM1061 118h1v2h-1zM1062 120h1v1h-1zM1063 121h1v2h-1zM1064 123h1v3h-1zM1065 126h1v3h-1zM1066 129h1v3h-1zM1067 132h1v4h-1zM1068 136h1v4h-1zM1069 140h1v4h-1zM1070 144h1v4h-1zM1071 148h1v4h-1zM1072 152h1v3h-1zM1073 155h1v2h-1zM1074 157h1v3h-1zM1075 160h1v2h-1zM1076 161h2v1h-2zM1078 162h12v1h-12zM1090 161h2v1h-2zM1092 162h2v1h-2zM1094 163h1v1h-1zM1095 164h1v1h-1zM1096 165h1v1h-1zM1097 166h1v1h-1zM1098 167h1v1h-1zM1099 168h1v1h-1zM1100 169h1v1h-1zM1101 170h1v1h-1zM1102 171h1v1h-1zM1103 172h3v1h-3zM1106 173h2v1h-2zM1108 174h2v1h-2zM1110 175h1v1h-1zM1111 176h1v1h-1zM1112 177h1v1h-1zM1113 178h1v1h-1zM1114 179h1v1h-1zM1115 180h2v1h-2zM1117 181h2v1h-2zM1119 182h5v1h-5zM1124 183h2v1h-2zM1126 184h1v1h-1zM1127 185h1v1h-1zM1128 186h2v1h-2zM1130 187h1v1h-1zM1131 188h1v1h-1zM1132 189h2v1h-2zM1134 190h1v1h-1zM1135 191h1v1h-1zM1136 192h1v1h-1zM1137 193h1v1h-1zM1138 194h1v1h-1zM1139 195h1v1h-1zM1140 196h1v2h-1zM1141 198h1v2h-1zM1142 200h1v2h-1zM1143 202h1v2h-1zM1144 204h1v3h-1zM1145 207h1v2h-1zM1146 209h1v3h-1zM1147 212h1v3h-1zM1148 215h1v2h-1zM1149 217h1v2h-1zM1150 219h1v2h-1zM1151 221h1v3h-1zM1152 224h1v3h-1zM1153 227h1v3h-1zM1154 230h1v3h-1zM1155 233h1v3h-1zM1156 236h1v2h-1zM1157 238h1v3h-1zM1158 241h1v2h-1zM1159 243h1v2h-1zM1160 245h1v2h-1zM1161 247h1v2h-1zM1162 249h1v2h-1zM1163 251h3v1h-3zM1166 250h2v1h-2zM1168 249h2v1h-2zM1170 248h1v1h-1zM1171 246h1v2h-1zM1172 243h1v3h-1zM1173 241h1v2h-1zM1174 238h1v3h-1zM1175 236h1v2h-1zM1176 234h1v2h-1zM1177 233h1v1h-1zM1178 231h1v2h-1zM1179 230h1v1h-1zM1180 229h2v1h-2zM1182 228h1v1h-1zM1183 227h2v1h-2zM1185 228h2v1h-2zM1187 229h1v1h-1zM1188 228h2v1h-2zM1190 227h1v1h-1zM1191 226h3v1h-3zM1194 225h3v1h-3zM1197 224h2v1h-2zM1199 223h1v1h-1zM1200 221h1v2h-1zM1201 220h1v1h-1zM1202 218h1v2h-1zM1203 216h1v2h-1zM1204 214h1v2h-1zM1205 212h1v2h-1zM1206 210h1v2h-1zM1207 208h1v2h-1zM1208 207h2v1h-2zM1210 206h1v1h-1zM1211 205h3v1h-3zM1214 206h2v1h-2zM1216 207h1v1h-1zM1217 208h1v1h-1zM1218 209h1v1h-1zM1219 210h2v1h-2zM1221 211h2v1h-2zM1223 212h1v1h-1zM1224 213h2v1h-2zM1226 214h1v1h-1zM1227 215h1v1h-1zM1228 216h2v1h-2zM1230 217h1v1h-1zM1231 218h3v1h-3zM1234 217h2v1h-2zM1236 216h1v1h-1zM1237 214h1v2h-1zM1238 213h1v1h-1zM1239 211h1v2h-1zM1240 208h1v3h-1zM1241 206h1v2h-1zM1242 203h1v3h-1zM1243 201h1v2h-1zM1244 200h2v1h-2zM1246 199h1v1h-1zM1247 198h1v1h-1zM1248 197h2v1h-2zM1250 196h1v1h-1zM1251 195h5v1h-5zM1256 196h1v1h-1zM1257 197h1v1h-1zM1258 198h1v1h-1zM1259 199h1v2h-1zM1260 201h1v2h-1zM1261 203h1v2h-1zM1262 205h1v2h-1zM1263 207h1v1h-1zM1264 208h2v1h-2zM1266 209h1v1h-1zM1267 210h2v1h-2zM1269 211h2v1h-2zM1271 212h1v2h-1zM1272 214h1v3h-1zM1273 217h1v2h-1zM1274 219h1v3h-1zM1275 222h1v2h-1zM1276 223h1v1h-1zM1277 224h2v1h-2zM1279 225h1v1h-1zM1280 226h1v2h-1zM1281 228h1v1h-1zM1282 229h1v2h-1zM1283 231h1v2h-1zM1284 233h1v2h-1zM1285 235h1v2h-1zM1286 237h1v2h-1zM1287 239h1v3h-1zM1288 242h1v2h-1zM1289 244h1v2h-1zM1290 246h1v2h-1zM1291 248h1v1h-1zM1292 247h1v1h-1zM1293 245h1v2h-1zM1294 244h1v1h-1zM1295 243h1v1h-1zM1296 244h2v1h-2zM1298 245h1v1h-1zM1299 246h3v1h-3zM1302 247h2v1h-2zM1304 246h2v1h-2zM1306 245h1v1h-1zM1307 244h1v1h-1zM1308 243h2v1h-2zM1310 242h1v1h-1zM1311 241h3v1h-3zM1314 240h7v1h-7zM1321 241h2v1h-2zM1323 242h3v1h-3zM1326 243h2v1h-2zM1328 244h1v1h-1zM1329 245h1v1h-1zM1330 246h1v1h-1zM1331 247h1v1h-1zM1332 248h1v2h-1zM1333 250h1v1h-1zM1334 251h1v2h-1zM1335 253h1v1h-1zM1336 254h1v1h-1zM1337 255h1v1h-1zM1338 256h1v1h-1z"/>
<path fill="#ff0000" d="M3 307h2v1h-2zM5 306h2v1h-2zM7 305h3v1h-3zM10 304h2v1h-2zM12 305h1v1h-1zM13 306h1v1h-1zM14 307h1v1h-1zM15 308h1v1h-1zM16 309h1v2h-1zM17 311h1v1h-1zM18 312h1v2h-1zM19 314h1v1h-1zM20 315h1v1h-1zM21 316h1v2h-1zM22 318h1v1h-1zM23 319h1v1h-1zM24 320h2v1h-2zM26 321h1v1h-1zM27 322h1v1h-1zM28 323h2v1h-2zM30 324h1v1h-1zM31 325h1v1h-1zM32 326h1v1h-1zM33 327h1v1h-1zM34 328h1v1h-1zM35 329h5v1h-5zM40 330h2v1h-2zM42 331h1v1h-1zM43 332h1v1h-1zM44 333h1v1h-1zM45 334h1v2h-1zM46 336h1v1h-1zM47 337h1v1h-1zM48 338h1v1h-1zM49 339h1v2h-1zM50 341h1v1h-1zM51 342h1v1h-1zM52 343h2v1h-2zM54 344h1v1h-1zM55 345h1v1h-1zM56 346h2v1h-2zM58 347h1v1h-1zM59 348h1v1h-1zM60 349h1v1h-1zM61 350h1v1h-1zM62 351h1v1h-1zM63 352h1v1h-1zM64 353h1v1h-1zM65 354h1v1h-1zM66 355h1v1h-1zM67 356h3v1h-3zM70 355h2v1h-2zM72 354h1v1h-1zM73 353h1v1h-1zM74 352h1v1h-1zM75 351h1v1h-1zM76 350h1v1h-1zM77 349h1v1h-1zM78 348h1v1h-1zM79 347h2v1h-2zM81 346h2v1h-2zM83 345h3v1h-3zM86 344h4v1h-4zM90 343h3v1h-3zM93 344h2v1h-2zM95 345h2v1h-2zM97 346h2v1h-2zM99 347h3v1h-3zM102 346h7v1h-7zM109 347h2v1h-2zM111 348h1v1h-1zM112 349h2v1h-2zM114 350h1v1h-1zM115 351h3v1h-3zM118 352h4v1h-4zM122 353h4v1h-4zM126 354h2v1h-2zM128 355h2v1h-2zM130 356h1v1h-1zM131 357h1v1h-1zM132 358h1v1h-1zM133 359h1v2h-1zM134 361h1v1h-1zM135 362h1v1h-1zM136 363h1v1h-1zM137 364h1v1h-1zM138 365h1v1h-1zM139 366h1v1h-1zM140 367h1v2h-1zM141 369h1v1h-1zM142 370h1v2h-1zM143 372h1v2h-1zM144 374h1v2h-1zM145 376h1v2h-1zM146 378h1v2h-1zM147 380h1v2h-1zM148 382h1v2h-1zM149 384h1v2h-1zM150 386h1v2h-1zM151 388h1v3h-1zM152 391h1v2h-1zM153 393h1v2h-1zM154 395h1v2h-1zM155 397h1v3h-1zM156 400h1v2h-1zM157 402h1v2h-1zM158 404h1v2h-1zM159 406h1v2h-1zM160 408h1v2h-1zM161 410h1v2h-1zM162 412h1v2h-1zM163 414h1v2h-1zM164 416h1v2h-1zM165 418h1v2h-1zM166 420h1v2h-1zM167 422h1v1h-1zM168 423h1v1h-1zM169 424h1v2h-1zM170 426h1v1h-1zM171 427h1v1h-1zM172 428h1v2h-1zM173 430h1v1h-1zM174 431h1v2h-1zM175 433h1v1h-1zM176 434h1v2h-1zM177 436h1v1h-1zM178 437h1v2h-1zM179 439h1v1h-1zM180 440h1v1h-1zM181 441h1v2h-1zM182 443h1v1h-1zM183 444h1v1h-1zM184 445h1v1h-1zM185 446h1v1h-1zM186 447h1v1h-1zM187 448h1v1h-1zM188 449h2v1h-2zM190 450h1v1h-1zM191 451h1v1h-1zM192 452h1v1h-1zM193 453h1v1h-1zM194 454h1v1h-1zM195 455h1v1h-1zM196 456h1v1h-1zM197 457h1v2h-1zM198 459h1v1h-1zM199 460h2v1h-2zM201 461h2v1h-2zM203 462h3v1h-3zM206 463h4v1h-4zM210 464h2v1h-2zM212 465h2v1h-2zM214 466h1v1h-1zM215 467h1v1h-1zM216 468h1v1h-1zM217 469h1v1h-1zM218 470h1v1h-1zM219 471h3v1h-3zM222 472h2v1h-2zM224 473h2v1h-2zM226 474h1v1h-1zM227 475h3v1h-3zM230 476h2v1h-2zM232 477h2v1h-2zM234 478h1v1h-1zM235 479h2v1h-2zM237 480h2v1h-2zM239 481h2v1h-2zM241 482h2v1h-2zM243 483h3v1h-3zM246 484h4v1h-4zM250 485h2v1h-2zM252 484h2v1h-2zM254 483h1v1h-1zM255 482h2v1h-2zM257 481h2v1h-2zM259 480h3v1h-3zM262 479h2v1h-2zM264 478h2v1h-2zM266 477h1v1h-1zM267 476h1v1h-1zM268 475h1v1h-1zM269 474h1v1h-1zM270 473h1v1h-1zM271 472h1v1h-1zM272 471h1v1h-1zM273 470h1v1h-1zM274 469h1v1h-1zM275 468h2v1h-2zM277 467h2v1h-2zM279 466h3v1h-3zM282 465h2v1h-2zM284 466h1v1h-1zM285 467h1v2h-1zM286 469h1v1h-1zM287 470h1v1h-1zM288 471h2v1h-2zM290 472h1v1h-1zM291 473h1v1h-1zM292 474h1v1h-1zM293 475h1v1h-1zM294 476h1v1h-1zM295 477h1v1h-1zM296 478h1v1h-1zM297 479h1v2h-1zM298 481h1v1h-1zM299 482h1v2h-1zM300 484h1v2h-1zM301 486h1v2h-1zM302 488h1v2h-1zM303 490h1v1h-1zM304 491h1v2h-1zM305 493h1v1h-1zM306 494h1v2h-1zM307 496h1v2h-1zM308 498h1v2h-1zM309 500h1v2h-1zM310 502h1v2h-1zM311 504h1v2h-1zM312 506h1v1h-1zM313 507h1v2h-1zM314 509h1v1h-1zM315 510h1v1h-1zM316 511h1v1h-1zM317 512h1v2h-1zM318 514h1v1h-1zM319 515h1v1h-1zM320 516h1v1h-1zM321 517h1v2h-1zM322 519h1v1h-1zM323 520h1v1h-1zM324 521h1v1h-1zM325 522h1v2h-1zM326 524h1v1h-1zM327 525h1v1h-1zM328 526h1v1h-1zM329 527h1v1h-1zM330 528h1v1h-1zM331 529h1v1h-1zM332 530h1v1h-1zM333 531h1v2h-1zM334 533h1v1h-1zM335 534h2v1h-2zM337 535h2v1h-2zM339 536h3v1h-3zM342 535h7v1h-7zM349 534h2v1h-2zM351 533h3v1h-3zM354 532h3v1h-3zM357 531h2v1h-2zM359 530h2v1h-2zM361 529h2v1h-2zM363 528h3v1h-3zM366 527h3v1h-3zM369 526h2v1h-2zM371 525h11v1h-11zM382 526h8v1h-8zM390 525h8v1h-8zM398 526h4v1h-4zM402 527h4v1h-4zM406 526h3v1h-3zM409 525h2v1h-2zM411 524h3v1h-3zM414 523h11v1h-11zM425 522h2v1h-2zM427 521h3v1h-3zM430 522h8v1h-8zM438 521h12v1h-12zM450 522h4v1h-4zM454 521h7v1h-7zM461 522h2v1h-2zM463 523h1v1h-1zM464 524h2v1h-2zM466 525h1v1h-1zM467 526h3v1h-3zM470 527h6v1h-6zM476 528h2v1h-2zM478 529h1v1h-1zM479 530h2v1h-2zM481 531h2v1h-2zM483 532h11v1h-11zM494 531h4v1h-4zM498 530h2v1h-2zM500 529h2v1h-2zM502 528h1v1h-1zM503 527h3v1h-3zM506 526h4v1h-4zM510 525h4v1h-4zM514 524h3v1h-3zM517 523h2v1h-2zM519 522h2v1h-2zM521 521h2v1h-2zM523 520h1v1h-1zM524 519h2v1h-2zM526 518h1v1h-1zM527 517h2v1h-2zM529 516h2v1h-2zM531 515h1v1h-1zM532 514h2v1h-2zM534 513h1v1h-1zM535 512h1v1h-1zM536 511h2v1h-2zM538 510h1v1h-1zM539 508h1v2h-1zM540 504h1v4h-1zM541 501h1v3h-1zM542 497h1v4h-1zM543 494h1v3h-1zM544 490h1v4h-1zM545 487h1v3h-1zM546 483h1v4h-1zM547 480h1v3h-1zM548 477h1v3h-1zM549 473h1v4h-1zM550 470h1v3h-1zM551 467h1v3h-1zM552 464h1v3h-1zM553 460h1v4h-1zM554 457h1v3h-1zM555 454h1v3h-1zM556 451h1v3h-1zM557 447h1v4h-1zM558 444h1v3h-1zM559 441h1v3h-1zM560 437h1v4h-1zM561 433h1v4h-1zM562 429h1v4h-1zM563 426h1v3h-1zM564 422h1v4h-1zM565 418h1v4h-1zM566 414h1v4h-1zM567 411h1v3h-1zM568 407h1v4h-1zM569 404h1v3h-1zM570 400h1v4h-1zM571 397h1v3h-1zM572 394h1v3h-1zM573 390h1v4h-1zM574 387h1v3h-1zM575 384h1v3h-1zM576 380h1v4h-1zM577 376h1v4h-1zM578 372h1v4h-1zM579 369h1v3h-1zM580 366h1v3h-1zM581 363h1v3h-1zM582 360h1v3h-1zM583 357h1v3h-1zM584 354h1v3h-1zM585 350h1v4h-1zM586 347h1v3h-1zM587 344h1v3h-1zM588 341h1v3h-1zM589 338h1v3h-1zM590 335h1v3h-1zM591 332h1v3h-1zM592 329h1v3h-1zM593 326h1v3h-1zM594 323h1v3h-1zM595 321h1v2h-1zM596 321h1v1h-1zM597 320h2v1h-2zM599 319h2v1h-2zM601 318h2v1h-2zM603 317h2v1h-2zM605 316h2v1h-2zM607 315h3v1h-3zM610 314h4v1h-4zM614 315h3v1h-3zM617 316h2v1h-2zM619 317h3v1h-3zM622 318h4v1h-4zM626 319h4v1h-4zM630 318h4v1h-4zM634 317h3v1h-3zM637 316h2v1h-2zM639 315h3v1h-3zM642 314h3v1h-3zM645 313h2v1h-2zM647 312h3v1h-3zM650 311h16v1h-16zM666 312h3v1h-3zM669 313h2v1h-2zM671 314h1v1h-1zM672 315h1v1h-1zM673 316h1v2h-1zM674 318h1v1h-1zM675 319h1v1h-1zM676 320h1v1h-1zM677 321h1v1h-1zM678 322h1v1h-1zM679 323h1v1h-1zM680 324h1v1h-1zM681 325h1v1h-1zM682 326h1v1h-1zM683 327h1v1h-1zM684 328h1v1h-1zM685 329h1v2h-1zM686 331h1v1h-1zM687 332h1v1h-1zM688 333h1v1h-1zM689 334h1v2h-1zM690 336h1v1h-1zM691 337h1v1h-1zM692 338h1v1h-1zM693 339h1v1h-1zM694 340h1v1h-1zM695 341h1v1h-1zM696 342h1v1h-1zM697 343h1v1h-1zM698 344h1v1h-1zM699 345h1v1h-1zM700 346h1v1h-1zM701 347h1v1h-1zM702 348h1v1h-1zM703 349h1v1h-1zM704 350h1v1h-1zM705 351h1v1h-1zM706 352h1v1h-1zM707 353h1v1h-1zM708 354h1v2h-1zM709 356h1v1h-1zM710 357h1v2h-1zM711 359h1v1h-1zM712 360h2v1h-2zM714 361h1v1h-1zM715 362h1v1h-1zM716 363h1v1h-1zM717 364h1v1h-1zM718 365h1v1h-1zM719 366h2v1h-2zM721 367h2v1h-2zM723 368h5v1h-5zM728 367h2v1h-2zM730 366h1v1h-1zM731 365h3v1h-3zM734 364h3v1h-3zM737 363h2v1h-2zM739 362h7v1h-7zM746 363h8v1h-8zM754 362h8v1h-8zM762 361h20v1h-20zM782 362h4v1h-4zM786 363h4v1h-4zM790 364h4v1h-4zM794 365h8v1h-8zM802 364h4v1h-4zM806 363h4v1h-4zM810 362h7v1h-7zM817 361h2v1h-2zM819 360h1v1h-1zM820 358h1v2h-1zM821 356h1v2h-1zM822 354h1v2h-1zM823 353h1v1h-1zM824 351h1v2h-1zM825 349h1v2h-1zM826 347h1v2h-1zM827 345h1v2h-1zM828 341h1v4h-1zM829 337h1v4h-1zM830 333h1v4h-1zM831 330h1v3h-1zM832 327h1v3h-1zM833 324h1v3h-1zM834 321h1v3h-1zM835 318h1v3h-1zM836 314h1v4h-1zM837 310h1v4h-1zM838 306h1v4h-1zM839 303h1v3h-1zM840 300h1v3h-1zM841 296h1v4h-1zM842 293h1v3h-1zM843 289h1v4h-1zM844 285h1v4h-1zM845 281h1v4h-1zM846 277h1v4h-1zM847 273h1v4h-1zM848 269h1v4h-1zM849 265h1v4h-1zM850 261h1v4h-1zM851 257h1v4h-1zM852 253h1v4h-1zM853 249h1v4h-1zM854 245h1v4h-1zM855 242h1v3h-1zM856 240h1v2h-1zM857 238h1v2h-1zM858 236h1v2h-1zM859 233h1v3h-1zM860 230h1v3h-1zM861 227h1v3h-1zM862 224h1v3h-1zM863 221h1v3h-1zM864 218h1v3h-1zM865 216h1v2h-1zM866 213h1v3h-1zM867 210h1v3h-1zM868 207h1v3h-1zM869 205h1v2h-1zM870 202h1v3h-1zM871 199h1v3h-1zM872 197h1v2h-1zM873 194h1v3h-1zM874 192h1v2h-1zM875 190h1v2h-1zM876 188h1v2h-1zM877 186h1v2h-1zM878 184h1v2h-1zM879 183h1v1h-1zM880 181h1v2h-1zM881 179h1v2h-1zM882 177h1v2h-1zM883 176h1v1h-1zM884 177h2v1h-2zM886 178h1v1h-1zM887 179h1v1h-1zM888 178h2v1h-2zM890 177h1v1h-1zM891 176h1v1h-1zM892 175h2v1h-2zM894 174h1v1h-1zM895 173h1v1h-1zM896 172h1v1h-1zM897 170h1v2h-1zM898 169h1v1h-1zM899 168h1v1h-1zM900 167h1v1h-1zM901 165h1v2h-1zM902 164h1v1h-1zM903 163h1v1h-1zM904 162h1v1h-1zM905 160h1v2h-1zM906 159h1v1h-1zM907 158h1v1h-1zM908 157h1v1h-1zM909 155h1v2h-1zM910 154h1v1h-1zM911 152h1v2h-1zM912 150h1v2h-1zM913 147h1v3h-1zM914 145h1v2h-1zM915 143h1v2h-1zM916 141h1v2h-1zM917 139h1v2h-1zM918 137h1v2h-1zM919 135h1v2h-1zM920 133h1v2h-1zM921 131h1v2h-1zM922 129h1v2h-1zM923 126h1v3h-1zM924 124h1v2h-1zM925 121h1v3h-1zM926 119h1v2h-1zM927 116h1v3h-1zM928 114h1v2h-1zM929 112h1v2h-1zM930 110h1v2h-1zM931 108h1v2h-1zM932 106h1v2h-1zM933 105h1v1h-1zM934 103h1v2h-1zM935 102h1v1h-1zM936 101h1v1h-1zM937 99h1v2h-1zM938 98h1v1h-1zM939 97h1v1h-1zM940 96h2v1h-2zM942 95h1v1h-1zM943 94h3v1h-3zM946 93h7v1h-7zM953 94h2v1h-2zM955 95h1v1h-1zM956 96h1v1h-1zM957 97h1v1h-1zM958 98h1v1h-1zM959 99h1v1h-1zM960 100h1v2h-1zM961 102h1v2h-1zM962 104h1v2h-1zM963 106h1v2h-1zM964 108h1v2h-1zM965 110h1v3h-1zM966 113h1v2h-1zM967 115h1v3h-1zM968 118h1v2h-1zM969 120h1v2h-1zM970 122h1v2h-1zM971 124h1v1h-1zM972 125h1v2h-1zM973 127h1v1h-1zM974 128h1v2h-1zM975 130h1v1h-1zM976 131h1v2h-1zM977 133h1v1h-1zM978 134h1v2h-1zM979 136h1v2h-1zM980 138h1v2h-1zM981 140h1v2h-1zM982 142h1v2h-1zM983 144h1v1h-1zM984 145h1v1h-1zM985 146h1v2h-1zM986 148h1v1h-1zM987 149h1v1h-1zM988 150h1v1h-1zM989 151h1v2h-1zM990 153h1v1h-1zM991 154h3v1h-3zM994 155h12v1h-12zM1006 154h3v1h-3zM1009 153h2v1h-2zM1011 152h2v1h-2zM1013 151h2v1h-2zM1015 150h1v1h-1zM1016 149h1v1h-1zM1017 147h1v2h-1zM1018 146h1v1h-1zM1019 144h1v2h-1zM1020 142h1v2h-1zM1021 140h1v2h-1zM1022 138h1v2h-1zM1023 136h1v2h-1zM1024 134h1v2h-1zM1025 132h1v2h-1zM1026 130h1v2h-1zM1027 129h1v1h-1zM1028 127h1v2h-1zM1029 126h1v1h-1zM1030 124h1v2h-1zM1031 123h1v1h-1zM1032 122h2v1h-2zM1034 121h1v1h-1zM1035 120h2v1h-2zM1037 119h2v1h-2zM1039 118h3v1h-3zM1042 117h2v1h-2zM1044 116h2v1h-2zM1046 115h1v1h-1zM1047 114h1v1h-1zM1048 113h2v1h-2zM1050 112h1v1h-1zM1051 111h3v1h-3zM1054 110h6v1h-6zM1060 111h1v1h-1zM1061 112h1v1h-1zM1062 113h1v1h-1zM1063 114h1v1h-1zM1064 115h1v1h-1zM1065 116h1v1h-1zM1066 117h1v1h-1zM1067 118h1v1h-1zM1068 119h1v1h-1zM1069 120h1v2h-1zM1070 122h1v1h-1zM1071 123h1v1h-1zM1072 124h1v1h-1zM1073 125h1v1h-1zM1074 126h1v1h-1zM1075 127h1v1h-1zM1076 128h2v1h-2zM1078 129h1v1h-1zM1079 130h1v1h-1zM1080 131h1v1h-1zM1081 132h1v2h-1zM1082 134h1v1h-1zM1083 135h1v1h-1zM1084 136h1v1h-1zM1085 137h1v2h-1zM1086 139h1v1h-1zM1087 140h1v1h-1zM1088 141h1v1h-1zM1089 142h1v1h-1zM1090 143h1v1h-1zM1091 144h1v1h-1zM1092 145h2v1h-2zM1094 146h1v1h-1zM1095 147h1v1h-1zM1096 148h2v1h-2zM1098 149h1v1h-1zM1099 150h1v1h-1zM1100 151h1v1h-1zM1101 152h1v1h-1zM1102 153h1v1h-1zM1103 154h1v1h-1zM1104 155h1v2h-1zM1105 157h1v1h-1zM1106 158h1v2h-1zM1107 160h1v1h-1zM1108 161h1v2h-1zM1109 163h1v1h-1zM1110 164h1v2h-1zM1111 166h1v1h-1zM1112 167h1v1h-1zM1113 168h1v1h-1zM1114 169h1v1h-1zM1115 170h3v1h-3zM1118 171h4v1h-4zM1122 172h4v1h-4zM1126 173h2v1h-2zM1128 174h2v1h-2zM1130 175h1v1h-1zM1131 176h1v1h-1zM1132 177h1v1h-1zM1133 178h1v1h-1zM1134 179h1v1h-1zM1135 180h1v1h-1zM1136 181h2v1h-2zM1138 182h1v1h-1zM1139 183h1v1h-1zM1140 184h1v1h-1zM1141 185h1v1h-1zM1142 186h1v1h-1zM1143 187h1v1h-1zM1144 188h1v1h-1zM1145 189h1v2h-1zM1146 191h1v1h-1zM1147 192h1v1h-1zM1148 193h1v1h-1zM1149 194h1v2h-1zM1150 196h1v1h-1zM1151 197h1v1h-1zM1152 198h1v2h-1zM1153 200h1v2h-1zM1154 202h1v2h-1zM1155 204h1v1h-1zM1156 205h1v1h-1zM1157 206h1v2h-1zM1158 208h1v1h-1zM1159 209h1v1h-1zM1160 210h1v2h-1zM1161 212h1v1h-1zM1162 213h1v2h-1zM1163 215h1v1h-1zM1164 216h2v1h-2zM1166 217h1v1h-1zM1167 218h1v1h-1zM1168 219h2v1h-2zM1170 220h1v1h-1zM1171 221h2v1h-2zM1173 222h2v1h-2zM1175 223h1v1h-1zM1176 224h2v1h-2zM1178 225h1v1h-1zM1179 226h1v1h-1zM1180 227h1v1h-1zM1181 228h1v1h-1zM1182 229h1v1h-1zM1183 230h1v1h-1zM1184 231h2v1h-2zM1186 232h1v1h-1zM1187 233h7v1h-7zM1194 234h4v1h-4zM1198 233h3v1h-3zM1201 232h2v1h-2zM1203 231h1v1h-1zM1204 230h2v1h-2zM1206 229h1v1h-1zM1207 228h1v1h-1zM1208 227h1v1h-1zM1209 225h1v2h-1zM1210 224h1v1h-1zM1211 223h1v1h-1zM1212 222h2v1h-2zM1214 221h1v1h-1zM1215 220h2v1h-2zM1217 219h2v1h-2zM1219 218h6v1h-6zM1225 217h2v1h-2zM1227 216h9v1h-9zM1236 215h2v1h-2zM1238 214h1v1h-1zM1239 213h1v1h-1zM1240 212h1v1h-1zM1241 210h1v2h-1zM1242 209h1v1h-1zM1243 208h2v1h-2zM1245 207h2v1h-2zM1247 206h11v1h-11zM1258 207h8v1h-8zM1266 208h6v1h-6zM1272 209h2v1h-2zM1274 210h1v1h-1zM1275 211h6v1h-6zM1281 212h2v1h-2zM1283 213h1v1h-1zM1284 214h2v1h-2zM1286 215h1v1h-1zM1287 216h1v1h-1zM1288 217h2v1h-2zM1290 218h1v1h-1zM1291 219h1v1h-1zM1292 220h2v1h-2zM1294 221h1v1h-1zM1295 222h1v1h-1zM1296 223h1v1h-1zM1297 224h1v2h-1zM1298 226h1v1h-1zM1299 227h1v1h-1zM1300 228h1v1h-1zM1301 229h1v1h-1zM1302 230h1v1h-1zM1303 231h1v1h-1zM1304 232h2v1h-2zM1306 233h1v1h-1zM1307 234h3v1h-3zM1310 235h4v1h-4zM1314 236h2v1h-2zM1316 237h2v1h-2zM1318 238h1v1h-1zM1319 239h1v1h-1zM1320 240h2v1h-2zM1322 241h1v1h-1zM1323 242h1v1h-1zM1324 243h2v1h-2zM1326 244h1v1h-1zM1327 245h3v1h-3zM1330 244h2v1h-2zM1332 245h2v1h-2zM1334 246h1v1h-1zM1335 247h3v1h-3zM1338 248h1v1h-1z"/>
<path fill="#0000cd" d="M3 305h9v1h-9zM12 306h1v1h-1zM13 307h1v1h-1zM14 308h1v1h-1zM15 309h1v1h-1zM16 310h1v1h-1zM17 311h1v1h-1zM18 312h1v1h-1zM19 313h1v1h-1zM20 314h2v1h-2zM22 315h1v1h-1zM23 316h3v1h-3zM26 317h4v1h-4zM30 318h8v1h-8zM38 319h6v1h-6zM44 320h2v1h-2zM46 321h1v1h-1zM47 322h2v1h-2zM49 323h2v1h-2zM51 324h3v1h-3zM54 325h4v1h-4zM58 326h4v1h-4zM62 327h3v1h-3zM65 328h2v1h-2zM67 329h3v1h-3zM70 330h4v1h-4zM74 331h4v1h-4zM78 332h8v1h-8zM86 333h4v1h-4zM90 334h3v1h-3zM93 335h2v1h-2zM95 336h3v1h-3zM98 337h3v1h-3zM101 338h2v1h-2zM103 339h2v1h-2zM105 340h2v1h-2zM107 341h2v1h-2zM109 342h2v1h-2zM111 343h1v1h-1zM112 344h2v1h-2zM114 345h1v1h-1zM115 346h1v1h-1zM116 347h2v1h-2zM118 348h1v1h-1zM119 349h3v1h-3zM122 350h2v1h-2zM124 351h2v1h-2zM126 352h1v1h-1zM127 353h1v1h-1zM128 354h2v1h-2zM130 355h1v1h-1zM131 356h3v1h-3zM134 357h4v1h-4zM138 356h3v1h-3zM141 357h2v1h-2zM143 358h1v1h-1zM144 359h2v1h-2zM146 360h1v1h-1zM147 361h1v1h-1zM148 362h1v1h-1zM149 363h1v1h-1zM150 364h1v1h-1zM151 365h1v1h-1zM152 366h1v1h-1zM153 367h1v2h-1zM154 369h1v1h-1zM155 370h1v1h-1zM156 371h1v1h-1zM157 372h1v2h-1zM158 374h1v1h-1zM159 375h1v1h-1zM160 376h1v1h-1zM161 377h1v1h-1zM162 378h1v1h-1zM163 379h1v1h-1zM164 380h1v1h-1zM165 381h1v1h-1zM166 382h1v1h-1zM167 383h1v1h-1zM168 384h2v1h-2zM170 385h1v1h-1zM171 386h1v1h-1zM172 387h2v1h-2zM174 388h1v1h-1zM175 389h1v1h-1zM176 390h1v1h-1zM177 391h1v1h-1zM178 392h1v1h-1zM179 393h1v1h-1zM180 394h2v1h-2zM182 395h1v1h-1zM183 396h1v1h-1zM184 397h2v1h-2zM186 398h1v1h-1zM187 399h1v1h-1zM188 400h2v1h-2zM190 401h1v1h-1zM191 402h1v1h-1zM192 403h2v1h-2zM194 404h1v1h-1zM195 405h1v1h-1zM196 406h1v1h-1zM197 407h1v2h-1zM198 409h1v1h-1zM199 410h1v1h-1zM200 411h1v2h-1zM201 413h1v1h-1zM202 414h1v2h-1zM203 416h1v1h-1zM204 417h1v1h-1zM205 418h1v2h-1zM206 420h1v1h-1zM207 421h1v1h-1zM208 422h1v1h-1zM209 423h1v2h-1zM210 425h1v1h-1zM211 426h1v1h-1zM212 427h1v1h-1zM213 428h1v2h-1zM214 430h1v1h-1zM215 431h1v1h-1zM216 432h1v2h-1zM217 434h1v1h-1zM218 435h1v2h-1zM219 437h1v1h-1zM220 438h1v1h-1zM221 439h1v2h-1zM222 441h1v1h-1zM223 442h1v1h-1zM224 443h1v1h-1zM225 444h1v1h-1zM226 445h1v1h-1zM227 446h1v1h-1zM228 447h2v1h-2zM230 448h1v1h-1zM231 449h1v1h-1zM232 450h2v1h-2zM234 451h1v1h-1zM235 452h1v1h-1zM236 453h1v1h-1zM237 454h1v1h-1zM238 455h1v1h-1zM239 456h1v1h-1zM240 457h2v1h-2zM242 458h1v1h-1zM243 459h1v1h-1zM244 460h2v1h-2zM246 461h1v1h-1zM247 462h1v1h-1zM248 463h2v1h-2zM250 464h1v1h-1zM251 465h2v1h-2zM253 466h2v1h-2zM255 467h2v1h-2zM257 468h2v1h-2zM259 469h2v1h-2zM261 470h2v1h-2zM263 471h7v1h-7zM270 470h8v1h-8zM278 469h4v1h-4zM282 470h4v1h-4zM286 471h2v1h-2zM288 472h2v1h-2zM290 473h1v1h-1zM291 474h2v1h-2zM293 475h2v1h-2zM295 476h1v1h-1zM296 477h1v1h-1zM297 478h1v1h-1zM298 479h1v1h-1zM299 480h1v1h-1zM300 481h1v1h-1zM301 482h1v1h-1zM302 483h1v1h-1zM303 484h1v1h-1zM304 485h1v1h-1zM305 486h1v1h-1zM306 487h1v1h-1zM307 488h1v1h-1zM308 489h2v1h-2zM310 490h1v1h-1zM311 491h1v1h-1zM312 492h1v1h-1zM313 493h1v1h-1zM314 494h1v1h-1zM315 495h3v1h-3zM318 496h3v1h-3zM321 497h2v1h-2zM323 498h3v1h-3zM326 499h4v1h-4zM330 500h4v1h-4zM334 501h4v1h-4zM338 500h4v1h-4zM342 501h4v1h-4zM346 502h4v1h-4zM350 503h3v1h-3zM353 504h2v1h-2zM355 505h2v1h-2zM357 506h2v1h-2zM359 507h2v1h-2zM361 508h2v1h-2zM363 509h2v1h-2zM365 510h2v1h-2zM367 511h1v1h-1zM368 512h2v1h-2zM370 513h1v1h-1zM371 514h2v1h-2zM373 515h2v1h-2zM375 516h2v1h-2zM377 517h2v1h-2zM379 518h1v1h-1zM380 519h2v1h-2zM382 520h1v1h-1zM383 521h1v1h-1zM384 522h2v1h-2zM386 523h1v1h-1zM387 524h3v1h-3zM390 525h3v1h-3zM393 526h2v1h-2zM395 527h2v1h-2zM397 528h2v1h-2zM399 529h3v1h-3zM402 530h8v1h-8zM410 529h8v1h-8zM418 528h4v1h-4zM422 527h3v1h-3zM425 526h2v1h-2zM427 525h3v1h-3zM430 524h20v1h-20zM450 523h12v1h-12zM462 524h4v1h-4zM466 525h4v1h-4zM470 526h12v1h-12zM482 527h16v1h-16zM498 526h3v1h-3zM501 525h2v1h-2zM503 524h3v1h-3zM506 523h12v1h-12zM518 522h8v1h-8zM526 521h12v1h-12zM538 520h2v1h-2zM540 518h1v2h-1zM541 517h1v1h-1zM542 515h1v2h-1zM543 514h1v1h-1zM544 512h1v2h-1zM545 511h1v1h-1zM546 509h1v2h-1zM547 508h1v1h-1zM548 506h1v2h-1zM549 505h1v1h-1zM550 503h1v2h-1zM551 502h1v1h-1zM552 500h1v2h-1zM553 498h1v2h-1zM554 496h1v2h-1zM555 494h1v2h-1zM556 492h1v2h-1zM557 490h1v2h-1zM558 488h1v2h-1zM559 487h1v1h-1zM560 485h1v2h-1zM561 483h1v2h-1zM562 481h1v2h-1zM563 479h1v2h-1zM564 477h1v2h-1zM565 475h1v2h-1zM566 473h1v2h-1zM567 472h1v1h-1zM568 470h1v2h-1zM569 468h1v2h-1zM570 466h1v2h-1zM571 465h1v1h-1zM572 463h1v2h-1zM573 461h1v2h-1zM574 459h1v2h-1zM575 458h1v1h-1zM576 456h1v2h-1zM577 454h1v2h-1zM578 452h1v2h-1zM579 451h1v1h-1zM580 449h1v2h-1zM581 447h1v2h-1zM582 445h1v2h-1zM583 444h1v1h-1zM584 442h1v2h-1zM585 440h1v2h-1zM586 438h1v2h-1zM587 437h1v1h-1zM588 435h1v2h-1zM589 434h1v1h-1zM590 432h1v2h-1zM591 431h1v1h-1zM592 429h1v2h-1zM593 427h1v2h-1zM594 425h1v2h-1zM595 423h1v2h-1zM596 421h1v2h-1zM597 419h1v2h-1zM598 417h1v2h-1zM599 415h1v2h-1zM600 413h1v2h-1zM601 411h1v2h-1zM602 409h1v2h-1zM603 408h1v1h-1zM604 406h1v2h-1zM605 404h1v2h-1zM606 402h1v2h-1zM607 400h1v2h-1zM608 398h1v2h-1zM609 396h1v2h-1zM610 394h1v2h-1zM611 393h1v1h-1zM612 391h1v2h-1zM613 390h1v1h-1zM614 388h1v2h-1zM615 387h1v1h-1zM616 385h1v2h-1zM617 383h1v2h-1zM618 381h1v2h-1zM619 380h1v1h-1zM620 378h1v2h-1zM621 377h1v1h-1zM622 375h1v2h-1zM623 374h1v1h-1zM624 372h1v2h-1zM625 371h1v1h-1zM626 369h1v2h-1zM627 368h1v1h-1zM628 366h1v2h-1zM629 364h1v2h-1zM630 362h1v2h-1zM631 361h1v1h-1zM632 359h1v2h-1zM633 357h1v2h-1zM634 355h1v2h-1zM635 354h1v1h-1zM636 352h1v2h-1zM637 351h1v1h-1zM638 349h1v2h-1zM639 348h1v1h-1zM640 346h1v2h-1zM641 344h1v2h-1zM642 342h1v2h-1zM643 341h1v1h-1zM644 339h1v2h-1zM645 338h1v1h-1zM646 336h1v2h-1zM647 335h1v1h-1zM648 333h1v2h-1zM649 332h1v1h-1zM650 330h1v2h-1zM651 329h1v1h-1zM652 327h1v2h-1zM653 325h1v2h-1zM654 323h1v2h-1zM655 322h1v1h-1zM656 320h1v2h-1zM657 318h1v2h-1zM658 316h1v2h-1zM659 315h14v1h-14zM673 316h2v1h-2zM675 317h2v1h-2zM677 318h2v1h-2zM679 319h1v1h-1zM680 320h2v1h-2zM682 321h1v1h-1zM683 322h2v1h-2zM685 323h2v1h-2zM687 324h2v1h-2zM689 325h2v1h-2zM691 326h2v1h-2zM693 327h2v1h-2zM695 328h3v1h-3zM698 329h3v1h-3zM701 330h2v1h-2zM703 331h3v1h-3zM706 332h3v1h-3zM709 333h2v1h-2zM711 334h3v1h-3zM714 335h4v1h-4zM718 336h3v1h-3zM721 337h2v1h-2zM723 338h3v1h-3zM726 339h3v1h-3zM729 340h2v1h-2zM731 341h3v1h-3zM734 342h4v1h-4zM738 343h3v1h-3zM741 344h2v1h-2zM743 345h2v1h-2zM745 346h2v1h-2zM747 347h2v1h-2zM749 348h2v1h-2zM751 349h2v1h-2zM753 350h2v1h-2zM755 351h2v1h-2zM757 352h2v1h-2zM759 353h3v1h-3zM762 354h3v1h-3zM765 355h2v1h-2zM767 356h2v1h-2zM769 357h2v1h-2zM771 358h2v1h-2zM773 359h2v1h-2zM775 360h2v1h-2zM777 361h2v1h-2zM779 362h3v1h-3zM782 363h4v1h-4zM786 364h4v1h-4zM790 365h8v1h-8zM798 364h8v1h-8zM806 363h8v1h-8zM814 362h4v1h-4zM818 361h2v1h-2zM820 360h2v1h-2zM822 359h1v1h-1zM823 358h1v1h-1zM824 357h2v1h-2zM826 356h1v1h-1zM827 354h1v2h-1zM828 352h1v2h-1zM829 350h1v2h-1zM830 348h1v2h-1zM831 347h1v1h-1zM832 345h1v2h-1zM833 344h1v1h-1zM834 342h1v2h-1zM835 341h1v1h-1zM836 339h1v2h-1zM837 337h1v2h-1zM838 335h1v2h-1zM839 334h1v1h-1zM840 332h1v2h-1zM841 331h1v1h-1zM842 329h1v2h-1zM843 328h1v1h-1zM844 326h1v2h-1zM845 324h1v2h-1zM846 322h1v2h-1zM847 321h1v1h-1zM848 319h1v2h-1zM849 318h1v1h-1zM850 316h1v2h-1zM851 315h1v1h-1zM852 313h1v2h-1zM853 311h1v2h-1zM854 309h1v2h-1zM855 308h1v1h-1zM856 307h1v1h-1zM857 306h1v1h-1zM858 305h1v1h-1zM859 304h1v1h-1zM860 302h1v2h-1zM861 301h1v1h-1zM862 299h1v2h-1zM863 298h1v1h-1zM864 296h1v2h-1zM865 295h1v1h-1zM866 293h1v2h-1zM867 292h1v1h-1zM868 290h1v2h-1zM869 289h1v1h-1zM870 287h1v2h-1zM871 286h1v1h-1zM872 285h1v1h-1zM873 283h1v2h-1zM874 282h1v1h-1zM875 281h1v1h-1zM876 279h1v2h-1zM877 278h1v1h-1zM878 276h1v2h-1zM879 275h1v1h-1zM880 273h1v2h-1zM881 271h1v2h-1zM882 269h1v2h-1zM883 268h1v1h-1zM884 266h1v2h-1zM885 265h1v1h-1zM886 263h1v2h-1zM887 262h1v1h-1zM888 260h1v2h-1zM889 258h1v2h-1zM890 256h1v2h-1zM891 254h1v2h-1zM892 252h1v2h-1zM893 250h1v2h-1zM894 248h1v2h-1zM895 246h1v2h-1zM896 244h1v2h-1zM897 242h1v2h-1zM898 240h1v2h-1zM899 237h1v3h-1zM900 235h1v2h-1zM901 233h1v2h-1zM902 231h1v2h-1zM903 228h1v3h-1zM904 226h1v2h-1zM905 223h1v3h-1zM906 221h1v2h-1zM907 218h1v3h-1zM908 216h1v2h-1zM909 213h1v3h-1zM910 211h1v2h-1zM911 208h1v3h-1zM912 206h1v2h-1zM913 204h1v2h-1zM914 202h1v2h-1zM915 199h1v3h-1zM916 197h1v2h-1zM917 195h1v2h-1zM918 193h1v2h-1zM919 190h1v3h-1zM920 188h1v2h-1zM921 185h1v3h-1zM922 183h1v2h-1zM923 180h1v3h-1zM924 178h1v2h-1zM925 176h1v2h-1zM926 174h1v2h-1zM927 171h1v3h-1zM928 169h1v2h-1zM929 166h1v3h-1zM930 164h1v2h-1zM931 161h1v3h-1zM932 159h1v2h-1zM933 157h1v2h-1zM934 155h1v2h-1zM935 153h1v2h-1zM936 151h1v2h-1zM937 149h1v2h-1zM938 147h1v2h-1zM939 146h1v1h-1zM940 145h1v1h-1zM941 143h1v2h-1zM942 142h1v1h-1zM943 141h1v1h-1zM944 140h1v1h-1zM945 139h1v1h-1zM946 138h1v1h-1zM947 137h3v1h-3zM950 136h3v1h-3zM953 135h2v1h-2zM955 134h3v1h-3zM958 133h7v1h-7zM965 134h2v1h-2zM967 135h2v1h-2zM969 136h2v1h-2zM971 137h3v1h-3zM974 138h3v1h-3zM977 137h2v1h-2zM979 136h3v1h-3zM982 135h3v1h-3zM985 134h2v1h-2zM987 133h3v1h-3zM990 132h3v1h-3zM993 131h2v1h-2zM995 130h2v1h-2zM997 129h2v1h-2zM999 128h2v1h-2zM1001 127h2v1h-2zM1003 126h2v1h-2zM1005 125h2v1h-2zM1007 124h3v1h-3zM1010 123h8v1h-8zM1018 122h4v1h-4zM1022 123h4v1h-4zM1026 124h8v1h-8zM1034 125h3v1h-3zM1037 126h2v1h-2zM1039 127h3v1h-3zM1042 128h3v1h-3zM1045 129h2v1h-2zM1047 130h3v1h-3zM1050 131h7v1h-7zM1057 132h2v1h-2zM1059 133h3v1h-3zM1062 134h4v1h-4zM1066 135h4v1h-4zM1070 136h4v1h-4zM1074 137h4v1h-4zM1078 138h4v1h-4zM1082 137h4v1h-4zM1086 136h4v1h-4zM1090 135h4v1h-4zM1094 134h4v1h-4zM1098 135h8v1h-8zM1106 136h4v1h-4zM1110 137h3v1h-3zM1113 138h2v1h-2zM1115 139h2v1h-2zM1117 140h2v1h-2zM1119 141h2v1h-2zM1121 142h2v1h-2zM1123 143h2v1h-2zM1125 144h2v1h-2zM1127 145h1v1h-1zM1128 146h2v1h-2zM1130 147h1v1h-1zM1131 148h1v1h-1zM1132 149h1v1h-1zM1133 150h1v1h-1zM1134 151h1v1h-1zM1135 152h1v1h-1zM1136 153h2v1h-2zM1138 154h1v1h-1zM1139 155h1v1h-1zM1140 156h1v1h-1zM1141 157h1v1h-1zM1142 158h1v1h-1zM1143 159h1v1h-1zM1144 160h1v1h-1zM1145 161h1v2h-1zM1146 163h1v1h-1zM1147 164h1v1h-1zM1148 165h1v1h-1zM1149 166h1v2h-1zM1150 168h1v1h-1zM1151 169h1v1h-1zM1152 170h1v1h-1zM1153 171h1v2h-1zM1154 173h1v1h-1zM1155 174h1v1h-1zM1156 175h1v1h-1zM1157 176h1v1h-1zM1158 177h1v1h-1zM1159 178h1v1h-1zM1160 179h1v1h-1zM1161 180h1v1h-1zM1162 181h1v1h-1zM1163 182h1v1h-1zM1164 183h1v1h-1zM1165 184h1v1h-1zM1166 185h1v1h-1zM1167 186h1v1h-1zM1168 187h1v1h-1zM1169 188h1v2h-1zM1170 190h1v1h-1zM1171 191h1v1h-1zM1172 192h2v1h-2zM1174 193h1v1h-1zM1175 194h1v1h-1zM1176 195h2v1h-2zM1178 196h1v1h-1zM1179 197h2v1h-2zM1181 198h2v1h-2zM1183 199h1v1h-1zM1184 200h2v1h-2zM1186 201h1v1h-1zM1187 202h3v1h-3zM1190 203h3v1h-3zM1193 204h2v1h-2zM1195 205h2v1h-2zM1197 206h2v1h-2zM1199 207h2v1h-2zM1201 208h2v1h-2zM1203 209h3v1h-3zM1206 210h4v1h-4zM1210 211h4v1h-4zM1214 212h3v1h-3zM1217 213h2v1h-2zM1219 214h3v1h-3zM1222 215h3v1h-3zM1225 216h2v1h-2zM1227 217h3v1h-3zM1230 218h8v1h-8zM1238 219h4v1h-4zM1242 218h4v1h-4zM1246 219h12v1h-12zM1258 220h4v1h-4zM1262 219h4v1h-4zM1266 218h4v1h-4zM1270 217h8v1h-8zM1278 216h8v1h-8zM1286 217h8v1h-8zM1294 218h4v1h-4zM1298 219h12v1h-12zM1310 220h4v1h-4zM1314 221h4v1h-4zM1318 222h4v1h-4zM1322 223h3v1h-3zM1325 224h2v1h-2zM1327 225h2v1h-2zM1329 226h2v1h-2zM1331 227h2v1h-2zM1333 228h2v1h-2zM1335 229h3v1h-3zM1338 230h1v1h-1z"/>
</g>
<rect x="2" y="21" width="1" height="777" fill="#000" shape-rendering="crispEdges"/>
<g id="levels" shape-rendering="crispEdges">
<rect x="3" y="40" width="1682" height="2" fill="#ff0000"/>
<rect x="2" y="38" width="6" height="6" fill="#ff0000"/><rect x="4" y="40" width="2" height="2" fill="#fff"/>
<rect x="1677" y="38" width="6" height="6" fill="#ff0000"/><rect x="1679" y="40" width="2" height="2" fill="#fff"/>
<rect x="3" y="140" width="1682" height="2" fill="#ff0000"/>
<rect x="2" y="138" width="6" height="6" fill="#ff0000"/><rect x="4" y="140" width="2" height="2" fill="#fff"/>
<rect x="1677" y="138" width="6" height="6" fill="#ff0000"/><rect x="1679" y="140" width="2" height="2" fill="#fff"/>
<rect x="3" y="240" width="1682" height="2" fill="#00ff00"/>
<rect x="2" y="238" width="6" height="6" fill="#00ff00"/><rect x="4" y="240" width="2" height="2" fill="#fff"/>
<rect x="1677" y="238" width="6" height="6" fill="#00ff00"/><rect x="1679" y="240" width="2" height="2" fill="#fff"/>
<rect x="3" y="359" width="1682" height="2" fill="#0000ff"/>
<rect x="3" y="481" width="1682" height="2" fill="#0000ff"/>
</g>
<path d="M1341 21h9v1h-1v1h-1v1h-1v1h-1v1h-1v-1h-1v-1h-1v-1h-1v-1h-1z" fill="#c0c0c0" shape-rendering="crispEdges"/>
<path d="M6 27 L13 27 L9.5 31 Z" fill="#000"/>
<text x="18" y="32" font-size="10" fill="#000" stroke="#000" stroke-width="0.12" textLength="65.8" lengthAdjust="spacingAndGlyphs">USDCNH,Daily</text>
<text x="89.9" y="32" font-size="10" fill="#000" stroke="#000" stroke-width="0.12" textLength="33" lengthAdjust="spacingAndGlyphs">6.97700</text>
<text x="126.2" y="32" font-size="10" fill="#000" stroke="#000" stroke-width="0.12" textLength="33" lengthAdjust="spacingAndGlyphs">6.98367</text>
<text x="162.1" y="32" font-size="10" fill="#000" stroke="#000" stroke-width="0.12" textLength="33" lengthAdjust="spacingAndGlyphs">6.97540</text>
<text x="198" y="32" font-size="10" fill="#000" stroke="#000" stroke-width="0.12" textLength="33" lengthAdjust="spacingAndGlyphs">6.97742</text>
<g id="paxis">
<rect x="1684" y="23" width="2" height="1" fill="#000" shape-rendering="crispEdges"/>
<text x="1689" y="27" font-size="10" fill="#000" stroke="#000" stroke-width="0.12" textLength="33" lengthAdjust="spacingAndGlyphs">7.21925</text>
<rect x="1684" y="56" width="2" height="1" fill="#000" shape-rendering="crispEdges"/>
<text x="1689" y="60" font-size="10" fill="#000" stroke="#000" stroke-width="0.12" textLength="33" lengthAdjust="spacingAndGlyphs">7.18600</text>
<rect x="1684" y="89" width="2" height="1" fill="#000" shape-rendering="crispEdges"/>
<text x="1689" y="93" font-size="10" fill="#000" stroke="#000" stroke-width="0.12" textLength="33" lengthAdjust="spacingAndGlyphs">7.15370</text>
<rect x="1684" y="122" width="2" height="1" fill="#000" shape-rendering="crispEdges"/>
<text x="1689" y="126" font-size="10" fill="#000" stroke="#000" stroke-width="0.12" textLength="33" lengthAdjust="spacingAndGlyphs">7.12045</text>
<rect x="1684" y="155" width="2" height="1" fill="#000" shape-rendering="crispEdges"/>
<text x="1689" y="159" font-size="10" fill="#000" stroke="#000" stroke-width="0.12" textLength="33" lengthAdjust="spacingAndGlyphs">7.08720</text>
<rect x="1684" y="188" width="2" height="1" fill="#000" shape-rendering="crispEdges"/>
<text x="1689" y="192" font-size="10" fill="#000" stroke="#000" stroke-width="0.12" textLength="33" lengthAdjust="spacingAndGlyphs">7.05395</text>
<rect x="1684" y="221" width="2" height="1" fill="#000" shape-rendering="crispEdges"/>
<text x="1689" y="225" font-size="10" fill="#000" stroke="#000" stroke-width="0.12" textLength="33" lengthAdjust="spacingAndGlyphs">7.02165</text>
<rect x="1684" y="254" width="2" height="1" fill="#000" shape-rendering="crispEdges"/>
<text x="1689" y="258" font-size="10" fill="#000" stroke="#000" stroke-width="0.12" textLength="33" lengthAdjust="spacingAndGlyphs">6.98840</text>
<rect x="1684" y="287" width="2" height="1" fill="#000" shape-rendering="crispEdges"/>
<text x="1689" y="291" font-size="10" fill="#000" stroke="#000" stroke-width="0.12" textLength="33" lengthAdjust="spacingAndGlyphs">6.95515</text>
<rect x="1684" y="320" width="2" height="1" fill="#000" shape-rendering="crispEdges"/>
<text x="1689" y="324" font-size="10" fill="#000" stroke="#000" stroke-width="0.12" textLength="33" lengthAdjust="spacingAndGlyphs">6.92285</text>
<rect x="1684" y="353" width="2" height="1" fill="#000" shape-rendering="crispEdges"/>
<text x="1689" y="357" font-size="10" fill="#000" stroke="#000" stroke-width="0.12" textLength="33" lengthAdjust="spacingAndGlyphs">6.88960</text>
<rect x="1684" y="386" width="2" height="1" fill="#000" shape-rendering="crispEdges"/>
<text x="1689" y="390" font-size="10" fill="#000" stroke="#000" stroke-width="0.12" textLength="33" lengthAdjust="spacingAndGlyphs">6.85635</text>
<rect x="1684" y="419" width="2" height="1" fill="#000" shape-rendering="crispEdges"/>
<text x="1689" y="423" font-size="10" fill="#000" stroke="#000" stroke-width="0.12" textLength="33" lengthAdjust="spacingAndGlyphs">6.82310</text>
<rect x="1684" y="452" width="2" height="1" fill="#000" shape-rendering="crispEdges"/>
<text x="1689" y="456" font-size="10" fill="#000" stroke="#000" stroke-width="0.12" textLength="33" lengthAdjust="spacingAndGlyphs">6.79080</text>
<rect x="1684" y="485" width="2" height="1" fill="#000" shape-rendering="crispEdges"/>
<text x="1689" y="489" font-size="10" fill="#000" stroke="#000" stroke-width="0.12" textLength="33" lengthAdjust="spacingAndGlyphs">6.75755</text>
<rect x="1684" y="518" width="2" height="1" fill="#000" shape-rendering="crispEdges"/>
<text x="1689" y="522" font-size="10" fill="#000" stroke="#000" stroke-width="0.12" textLength="33" lengthAdjust="spacingAndGlyphs">6.72430</text>
<rect x="1684" y="551" width="2" height="1" fill="#000" shape-rendering="crispEdges"/>
<text x="1689" y="555" font-size="10" fill="#000" stroke="#000" stroke-width="0.12" textLength="33" lengthAdjust="spacingAndGlyphs">6.69105</text>
<rect x="1684" y="584" width="2" height="1" fill="#000" shape-rendering="crispEdges"/>
<text x="1689" y="588" font-size="10" fill="#000" stroke="#000" stroke-width="0.12" textLength="33" lengthAdjust="spacingAndGlyphs">6.65875</text>
<rect x="1685" y="35" width="41" height="11" fill="#ff0000" shape-rendering="crispEdges"/>
<text x="1689" y="44" font-size="10" fill="#fff" stroke="#fff" stroke-width="0.12" textLength="33" lengthAdjust="spacingAndGlyphs">7.20091</text>
<rect x="1685" y="135" width="41" height="11" fill="#ff0000" shape-rendering="crispEdges"/>
<text x="1689" y="144" font-size="10" fill="#fff" stroke="#fff" stroke-width="0.12" textLength="33" lengthAdjust="spacingAndGlyphs">7.10096</text>
<rect x="1685" y="235" width="41" height="11" fill="#00ff00" shape-rendering="crispEdges"/>
<text x="1689" y="244" font-size="10" fill="#fff" stroke="#fff" stroke-width="0.12" textLength="33" lengthAdjust="spacingAndGlyphs">7.00100</text>
<rect x="1685" y="354" width="41" height="11" fill="#0000ff" shape-rendering="crispEdges"/>
<text x="1689" y="363" font-size="10" fill="#fff" stroke="#fff" stroke-width="0.12" textLength="33" lengthAdjust="spacingAndGlyphs">6.88211</text>
<rect x="1685" y="476" width="41" height="11" fill="#0000ff" shape-rendering="crispEdges"/>
<text x="1689" y="485" font-size="10" fill="#fff" stroke="#fff" stroke-width="0.12" textLength="33" lengthAdjust="spacingAndGlyphs">6.76006</text>
<rect x="1685" y="260" width="41" height="11" fill="#000" shape-rendering="crispEdges"/>
<text x="1689" y="269" font-size="10" fill="#fff" stroke="#fff" stroke-width="0.12" textLength="33" lengthAdjust="spacingAndGlyphs">6.97742</text>
</g>
<g id="rsi">
<line x1="4" x2="1683" y1="621.5" y2="621.5" stroke="#c0c0c0" stroke-width="1" stroke-dasharray="3 3" shape-rendering="crispEdges"/>
<line x1="4" x2="1683" y1="662.5" y2="662.5" stroke="#c0c0c0" stroke-width="1" stroke-dasharray="3 3" shape-rendering="crispEdges"/>
<g shape-rendering="crispEdges"><path fill="#1e90ff" d="M3 641h1v2h-1zM4 639h1v2h-1zM5 637h1v2h-1zM6 635h1v2h-1zM7 633h1v2h-1zM8 634h1v1h-1zM9 635h1v2h-1zM10 637h1v1h-1zM11 638h1v3h-1zM12 641h1v5h-1zM13 646h1v6h-1zM14 652h1v5h-1zM15 657h1v3h-1zM16 660h1v2h-1zM17 662h1v2h-1zM18 664h1v2h-1zM19 666h1v1h-1zM20 664h1v2h-1zM21 662h1v2h-1zM22 660h1v2h-1zM23 658h1v2h-1zM24 656h1v2h-1zM25 654h1v2h-1zM26 652h1v2h-1zM27 650h1v2h-1zM28 650h2v1h-2zM30 651h4v1h-4zM34 650h1v1h-1zM35 649h1v2h-1zM36 647h1v2h-1zM37 645h1v2h-1zM38 643h1v2h-1zM39 641h1v2h-1zM40 642h1v1h-1zM41 643h1v1h-1zM42 644h1v1h-1zM43 645h1v1h-1zM44 646h1v2h-1zM45 648h1v1h-1zM46 649h1v2h-1zM47 651h1v1h-1zM48 650h2v1h-2zM50 649h1v1h-1zM51 648h1v1h-1zM52 647h1v1h-1zM53 645h1v2h-1zM54 644h1v1h-1zM55 643h3v1h-3zM58 644h8v1h-8zM66 645h4v1h-4zM70 646h3v1h-3zM73 645h2v1h-2zM75 644h1v1h-1zM76 643h1v1h-1zM77 641h1v2h-1zM78 640h1v1h-1zM79 639h2v1h-2zM81 638h2v1h-2zM83 637h1v1h-1zM84 638h1v2h-1zM85 640h1v1h-1zM86 641h1v2h-1zM87 643h3v1h-3zM90 644h2v1h-2zM92 645h1v1h-1zM93 646h1v1h-1zM94 647h1v1h-1zM95 648h11v1h-11zM106 649h2v1h-2zM108 650h1v1h-1zM109 651h1v1h-1zM110 652h1v1h-1zM111 653h3v1h-3zM114 654h2v1h-2zM116 653h1v1h-1zM117 651h1v2h-1zM118 650h1v1h-1zM119 649h1v1h-1zM120 647h1v2h-1zM121 645h1v2h-1zM122 643h1v2h-1zM123 642h1v2h-1zM124 644h1v2h-1zM125 646h1v2h-1zM126 648h1v2h-1zM127 650h3v1h-3zM130 651h2v1h-2zM132 652h1v1h-1zM133 653h1v2h-1zM134 655h1v1h-1zM135 656h1v1h-1zM136 655h1v1h-1zM137 654h1v1h-1zM138 653h1v1h-1zM139 652h1v2h-1zM140 654h1v2h-1zM141 656h1v2h-1zM142 658h1v2h-1zM143 660h1v1h-1zM144 661h1v2h-1zM145 663h1v1h-1zM146 664h1v2h-1zM147 666h1v1h-1zM148 667h1v1h-1zM149 668h1v1h-1zM150 669h1v1h-1zM151 670h2v1h-2zM153 669h2v1h-2zM155 668h3v1h-3zM158 667h3v1h-3zM161 666h2v1h-2zM163 665h4v1h-4zM167 664h1v2h-1zM168 662h1v2h-1zM169 659h1v3h-1zM170 657h1v2h-1zM171 655h1v2h-1zM172 655h2v1h-2zM174 654h2v1h-2zM176 653h1v1h-1zM177 652h1v1h-1zM178 651h1v1h-1zM179 650h3v1h-3zM182 651h2v1h-2zM184 650h1v1h-1zM185 649h1v1h-1zM186 648h1v1h-1zM187 647h1v1h-1zM188 648h1v1h-1zM189 649h1v1h-1zM190 650h1v1h-1zM191 651h3v1h-3zM194 650h1v1h-1zM195 650h1v2h-1zM196 652h1v2h-1zM197 654h1v3h-1zM198 657h1v2h-1zM199 659h1v2h-1zM200 660h6v1h-6zM206 659h3v1h-3zM209 660h2v1h-2zM211 661h1v1h-1zM212 662h2v1h-2zM214 663h1v1h-1zM215 664h1v1h-1zM216 665h2v1h-2zM218 666h1v1h-1zM219 665h1v3h-1zM220 661h1v4h-1zM221 657h1v4h-1zM222 653h1v4h-1zM223 651h1v2h-1zM224 651h2v1h-2zM226 650h2v1h-2zM228 648h1v2h-1zM229 647h1v1h-1zM230 645h1v2h-1zM231 644h1v1h-1zM232 645h2v1h-2zM234 646h1v1h-1zM235 647h1v1h-1zM236 646h2v1h-2zM238 645h1v1h-1zM239 644h3v1h-3zM242 643h4v1h-4zM246 642h4v1h-4zM250 641h2v1h-2zM252 640h1v1h-1zM253 638h1v2h-1zM254 637h1v1h-1zM255 636h1v2h-1zM256 638h1v2h-1zM257 640h1v2h-1zM258 642h1v2h-1zM259 644h3v1h-3zM262 643h3v1h-3zM265 642h2v1h-2zM267 641h2v1h-2zM269 642h2v1h-2zM271 643h2v1h-2zM273 644h2v1h-2zM275 645h3v1h-3zM278 644h2v1h-2zM280 645h2v1h-2zM282 646h1v1h-1zM283 647h1v2h-1zM284 649h1v3h-1zM285 652h1v3h-1zM286 655h1v3h-1zM287 658h1v2h-1zM288 658h1v1h-1zM289 657h1v1h-1zM290 656h1v1h-1zM291 655h2v1h-2zM293 656h2v1h-2zM295 657h1v1h-1zM296 658h2v1h-2zM298 659h1v1h-1zM299 660h1v1h-1zM300 661h2v1h-2zM302 662h1v1h-1zM303 663h1v1h-1zM304 662h1v1h-1zM305 660h1v2h-1zM306 659h1v1h-1zM307 658h3v1h-3zM310 659h2v1h-2zM312 658h1v1h-1zM313 657h1v1h-1zM314 656h1v1h-1zM315 655h1v1h-1zM316 654h1v1h-1zM317 653h1v1h-1zM318 652h1v1h-1zM319 651h1v1h-1zM320 650h2v1h-2zM322 649h1v1h-1zM323 648h2v1h-2zM325 649h2v1h-2zM327 650h6v1h-6zM333 649h2v1h-2zM335 648h1v1h-1zM336 647h1v1h-1zM337 646h1v1h-1zM338 645h1v1h-1zM339 644h3v1h-3zM342 643h4v1h-4zM346 642h4v1h-4zM350 641h1v1h-1zM351 641h1v2h-1zM352 643h1v2h-1zM353 645h1v2h-1zM354 647h1v2h-1zM355 649h3v1h-3zM358 650h2v1h-2zM360 648h1v2h-1zM361 647h1v1h-1zM362 645h1v2h-1zM363 644h1v1h-1zM364 645h2v1h-2zM366 646h1v1h-1zM367 647h3v1h-3zM370 648h2v1h-2zM372 647h1v1h-1zM373 645h1v2h-1zM374 644h1v1h-1zM375 643h1v1h-1zM376 644h1v1h-1zM377 645h1v1h-1zM378 646h1v1h-1zM379 647h1v1h-1zM380 648h1v1h-1zM381 649h1v1h-1zM382 650h1v1h-1zM383 651h1v1h-1zM384 650h2v1h-2zM386 649h1v1h-1zM387 647h1v2h-1zM388 645h1v2h-1zM389 643h1v2h-1zM390 641h1v2h-1zM391 640h5v1h-5zM396 641h1v1h-1zM397 642h1v1h-1zM398 643h1v1h-1zM399 644h1v1h-1zM400 643h2v1h-2zM402 642h1v1h-1zM403 641h1v1h-1zM404 639h1v2h-1zM405 638h1v1h-1zM406 636h1v2h-1zM407 635h4v1h-4zM411 635h1v2h-1zM412 637h1v2h-1zM413 639h1v2h-1zM414 641h1v2h-1zM415 643h3v1h-3zM418 642h3v1h-3zM421 643h2v1h-2zM423 644h1v1h-1zM424 643h1v1h-1zM425 641h1v2h-1zM426 640h1v1h-1zM427 639h1v1h-1zM428 640h1v2h-1zM429 642h1v1h-1zM430 643h1v2h-1zM431 645h3v1h-3zM434 644h3v1h-3zM437 645h2v1h-2zM439 646h5v1h-5zM444 645h1v1h-1zM445 644h1v1h-1zM446 643h1v1h-1zM447 642h2v1h-2zM449 643h2v1h-2zM451 644h1v1h-1zM452 643h1v1h-1zM453 642h1v1h-1zM454 641h1v1h-1zM455 640h2v1h-2zM457 639h2v1h-2zM459 638h1v2h-1zM460 640h1v2h-1zM461 642h1v2h-1zM462 644h1v2h-1zM463 646h3v1h-3zM466 647h4v1h-4zM470 648h2v1h-2zM472 647h1v1h-1zM473 646h1v1h-1zM474 645h1v1h-1zM475 644h1v2h-1zM476 646h1v2h-1zM477 648h1v3h-1zM478 651h1v2h-1zM479 653h1v2h-1zM480 651h1v2h-1zM481 648h1v3h-1zM482 646h1v2h-1zM483 644h1v2h-1zM484 644h2v1h-2zM486 645h2v1h-2zM488 644h2v1h-2zM490 643h1v1h-1zM491 642h1v1h-1zM492 641h1v1h-1zM493 639h1v2h-1zM494 638h1v1h-1zM495 637h2v1h-2zM497 636h2v1h-2zM499 635h1v1h-1zM500 633h1v2h-1zM501 632h1v1h-1zM502 630h1v2h-1zM503 629h1v1h-1zM504 630h1v2h-1zM505 632h1v2h-1zM506 634h1v2h-1zM507 636h3v1h-3zM510 635h8v1h-8zM518 634h2v1h-2zM520 635h1v2h-1zM521 637h1v1h-1zM522 638h1v2h-1zM523 640h1v1h-1zM524 638h1v2h-1zM525 637h1v1h-1zM526 635h1v2h-1zM527 634h1v1h-1zM528 635h2v1h-2zM530 636h1v1h-1zM531 637h3v1h-3zM534 638h3v1h-3zM537 637h2v1h-2zM539 633h1v4h-1zM540 626h1v7h-1zM541 620h1v6h-1zM542 613h1v7h-1zM543 609h1v4h-1zM544 610h2v1h-2zM546 611h1v1h-1zM547 612h7v1h-7zM554 611h3v1h-3zM557 610h2v1h-2zM559 609h7v1h-7zM566 610h3v1h-3zM569 611h2v1h-2zM571 612h3v1h-3zM574 613h3v1h-3zM577 614h2v1h-2zM579 615h1v1h-1zM580 616h1v1h-1zM581 617h1v1h-1zM582 618h1v1h-1zM583 619h2v1h-2zM585 620h2v1h-2zM587 621h2v1h-2zM589 622h2v1h-2zM591 623h2v1h-2zM593 622h2v1h-2zM595 621h1v1h-1zM596 620h2v1h-2zM598 619h1v1h-1zM599 618h1v1h-1zM600 619h1v1h-1zM601 620h1v1h-1zM602 621h1v1h-1zM603 622h3v1h-3zM606 621h6v1h-6zM612 622h2v1h-2zM614 623h1v1h-1zM615 624h7v1h-7zM622 623h2v1h-2zM624 624h1v1h-1zM625 625h1v1h-1zM626 626h1v1h-1zM627 627h1v1h-1zM628 626h1v1h-1zM629 624h1v2h-1zM630 623h1v1h-1zM631 622h3v1h-3zM634 621h3v1h-3zM637 622h2v1h-2zM639 623h1v2h-1zM640 625h1v2h-1zM641 627h1v2h-1zM642 629h1v2h-1zM643 631h2v1h-2zM645 630h2v1h-2zM647 629h7v1h-7zM654 628h8v1h-8zM662 629h1v1h-1zM663 629h1v2h-1zM664 631h1v4h-1zM665 635h1v3h-1zM666 638h1v4h-1zM667 642h1v2h-1zM668 643h2v1h-2zM670 644h1v1h-1zM671 644h1v2h-1zM672 646h1v4h-1zM673 650h1v3h-1zM674 653h1v4h-1zM675 657h1v2h-1zM676 657h1v1h-1zM677 655h1v2h-1zM678 654h1v1h-1zM679 653h3v1h-3zM682 654h2v1h-2zM684 653h1v1h-1zM685 652h1v1h-1zM686 651h1v1h-1zM687 650h2v1h-2zM689 649h2v1h-2zM691 648h3v1h-3zM694 647h3v1h-3zM697 648h2v1h-2zM699 649h3v1h-3zM702 650h4v1h-4zM706 651h3v1h-3zM709 652h2v1h-2zM711 652h1v2h-1zM712 650h1v2h-1zM713 648h1v2h-1zM714 646h1v2h-1zM715 644h1v2h-1zM716 644h2v1h-2zM718 643h2v1h-2zM720 644h1v1h-1zM721 645h1v1h-1zM722 646h1v1h-1zM723 646h1v2h-1zM724 644h1v2h-1zM725 641h1v3h-1zM726 639h1v2h-1zM727 637h1v2h-1zM728 637h2v1h-2zM730 638h2v1h-2zM732 639h2v1h-2zM734 640h1v1h-1zM735 641h2v1h-2zM737 640h2v1h-2zM739 639h1v2h-1zM740 641h1v2h-1zM741 643h1v2h-1zM742 645h1v2h-1zM743 647h1v2h-1zM744 648h4v1h-4zM748 647h1v1h-1zM749 645h1v2h-1zM750 644h1v1h-1zM751 643h2v1h-2zM753 644h2v1h-2zM755 645h3v1h-3zM758 646h3v1h-3zM761 645h2v1h-2zM763 644h2v1h-2zM765 645h2v1h-2zM767 646h1v1h-1zM768 645h2v1h-2zM770 644h1v1h-1zM771 643h3v1h-3zM774 642h8v1h-8zM782 643h2v1h-2zM784 642h2v1h-2zM786 641h1v1h-1zM787 640h1v1h-1zM788 641h1v2h-1zM789 643h1v2h-1zM790 645h1v2h-1zM791 647h3v1h-3zM794 648h2v1h-2zM796 646h1v2h-1zM797 644h1v2h-1zM798 642h1v2h-1zM799 641h3v1h-3zM802 642h2v1h-2zM804 640h1v2h-1zM805 639h1v1h-1zM806 637h1v2h-1zM807 636h3v1h-3zM810 637h4v1h-4zM814 638h1v1h-1zM815 637h1v2h-1zM816 635h1v2h-1zM817 633h1v2h-1zM818 631h1v2h-1zM819 628h1v3h-1zM820 624h1v4h-1zM821 620h1v4h-1zM822 616h1v4h-1zM823 613h1v3h-1zM824 613h2v1h-2zM826 612h1v1h-1zM827 611h1v2h-1zM828 609h1v2h-1zM829 606h1v3h-1zM830 604h1v2h-1zM831 602h1v2h-1zM832 604h1v3h-1zM833 607h1v4h-1zM834 611h1v3h-1zM835 614h1v2h-1zM836 614h2v1h-2zM838 613h1v1h-1zM839 612h1v1h-1zM840 613h1v2h-1zM841 615h1v1h-1zM842 616h1v2h-1zM843 618h1v1h-1zM844 617h2v1h-2zM846 616h1v1h-1zM847 615h3v1h-3zM850 616h5v1h-5zM855 616h1v3h-1zM856 619h1v5h-1zM857 624h1v4h-1zM858 628h1v5h-1zM859 633h1v3h-1zM860 634h1v1h-1zM861 632h1v2h-1zM862 631h1v1h-1zM863 630h3v1h-3zM866 631h11v1h-11zM877 630h2v1h-2zM879 629h2v1h-2zM881 628h2v1h-2zM883 627h2v1h-2zM885 628h2v1h-2zM887 629h1v1h-1zM888 628h1v1h-1zM889 627h1v1h-1zM890 626h1v1h-1zM891 625h1v1h-1zM892 624h1v1h-1zM893 623h1v1h-1zM894 622h1v1h-1zM895 621h3v1h-3zM898 620h2v1h-2zM900 619h1v1h-1zM901 618h1v1h-1zM902 617h1v1h-1zM903 616h2v1h-2zM905 617h2v1h-2zM907 618h5v1h-5zM912 619h1v2h-1zM913 621h1v1h-1zM914 622h1v2h-1zM915 624h2v1h-2zM917 623h2v1h-2zM919 622h3v1h-3zM922 621h2v1h-2zM924 620h2v1h-2zM926 619h1v1h-1zM927 618h1v1h-1zM928 619h2v1h-2zM930 620h1v1h-1zM931 621h1v2h-1zM932 623h1v2h-1zM933 625h1v2h-1zM934 627h1v2h-1zM935 629h1v2h-1zM936 630h1v1h-1zM937 631h2v1h-2zM939 632h1v1h-1zM940 633h1v2h-1zM941 635h1v2h-1zM942 637h1v2h-1zM943 639h3v1h-3zM946 640h2v1h-2zM948 639h2v1h-2zM950 638h1v1h-1zM951 637h2v1h-2zM953 638h2v1h-2zM955 639h4v1h-4zM959 639h1v2h-1zM960 641h1v3h-1zM961 644h1v2h-1zM962 646h1v3h-1zM963 649h1v2h-1zM964 651h1v1h-1zM965 652h1v2h-1zM966 654h1v1h-1zM967 655h1v1h-1zM968 654h2v1h-2zM970 653h1v1h-1zM971 652h1v1h-1zM972 650h1v2h-1zM973 649h1v1h-1zM974 647h1v2h-1zM975 646h1v1h-1zM976 645h1v1h-1zM977 644h1v1h-1zM978 643h1v1h-1zM979 642h3v1h-3zM982 643h2v1h-2zM984 642h1v1h-1zM985 641h1v1h-1zM986 640h1v1h-1zM987 639h1v1h-1zM988 640h2v1h-2zM990 641h1v1h-1zM991 642h1v1h-1zM992 640h1v2h-1zM993 639h1v1h-1zM994 637h1v2h-1zM995 636h7v1h-7zM1002 637h2v1h-2zM1004 636h1v1h-1zM1005 635h1v1h-1zM1006 634h1v1h-1zM1007 633h3v1h-3zM1010 634h3v1h-3zM1013 633h2v1h-2zM1015 632h2v1h-2zM1017 631h2v1h-2zM1019 630h3v1h-3zM1022 631h4v1h-4zM1026 630h4v1h-4zM1030 631h2v1h-2zM1032 632h1v2h-1zM1033 634h1v1h-1zM1034 635h1v2h-1zM1035 637h1v1h-1zM1036 638h1v1h-1zM1037 639h1v2h-1zM1038 641h1v1h-1zM1039 642h3v1h-3zM1042 643h2v1h-2zM1044 641h1v2h-1zM1045 640h1v1h-1zM1046 638h1v2h-1zM1047 637h1v1h-1zM1048 635h1v2h-1zM1049 634h1v1h-1zM1050 632h1v2h-1zM1051 631h1v1h-1zM1052 632h1v1h-1zM1053 633h1v2h-1zM1054 635h1v1h-1zM1055 636h1v2h-1zM1056 638h1v2h-1zM1057 640h1v2h-1zM1058 642h1v2h-1zM1059 644h1v2h-1zM1060 646h1v1h-1zM1061 647h1v2h-1zM1062 649h1v1h-1zM1063 650h3v1h-3zM1066 651h4v1h-4zM1070 652h2v1h-2zM1072 651h1v1h-1zM1073 650h1v1h-1zM1074 649h1v1h-1zM1075 648h1v1h-1zM1076 647h1v1h-1zM1077 646h1v1h-1zM1078 645h1v1h-1zM1079 644h1v1h-1zM1080 645h1v1h-1zM1081 646h1v1h-1zM1082 647h1v1h-1zM1083 648h6v1h-6zM1089 649h2v1h-2zM1091 650h7v1h-7zM1098 649h3v1h-3zM1101 650h2v1h-2zM1103 651h2v1h-2zM1105 650h2v1h-2zM1107 649h1v1h-1zM1108 650h1v1h-1zM1109 651h1v1h-1zM1110 652h1v1h-1zM1111 653h3v1h-3zM1114 654h2v1h-2zM1116 653h1v1h-1zM1117 652h1v1h-1zM1118 651h1v1h-1zM1119 650h2v1h-2zM1121 649h2v1h-2zM1123 648h1v1h-1zM1124 649h2v1h-2zM1126 650h1v1h-1zM1127 651h1v1h-1zM1128 652h1v1h-1zM1129 653h1v1h-1zM1130 654h1v1h-1zM1131 655h3v1h-3zM1134 656h3v1h-3zM1137 655h2v1h-2zM1139 654h1v1h-1zM1140 655h1v1h-1zM1141 656h1v1h-1zM1142 657h1v1h-1zM1143 658h1v1h-1zM1144 659h1v1h-1zM1145 660h1v2h-1zM1146 662h1v1h-1zM1147 663h3v1h-3zM1150 664h2v1h-2zM1152 665h1v1h-1zM1153 666h1v1h-1zM1154 667h1v1h-1zM1155 667h1v2h-1zM1156 665h1v2h-1zM1157 663h1v2h-1zM1158 661h1v2h-1zM1159 660h4v1h-4zM1163 659h1v2h-1zM1164 657h1v2h-1zM1165 655h1v2h-1zM1166 653h1v2h-1zM1167 651h1v2h-1zM1168 651h4v1h-4zM1172 650h1v1h-1zM1173 648h1v2h-1zM1174 647h1v1h-1zM1175 646h5v1h-5zM1180 647h1v2h-1zM1181 649h1v1h-1zM1182 650h1v2h-1zM1183 652h4v1h-4zM1187 651h1v2h-1zM1188 649h1v2h-1zM1189 647h1v2h-1zM1190 645h1v2h-1zM1191 644h2v1h-2zM1193 643h2v1h-2zM1195 642h2v1h-2zM1197 641h2v1h-2zM1199 640h2v1h-2zM1201 641h2v1h-2zM1203 642h1v1h-1zM1204 641h1v1h-1zM1205 639h1v2h-1zM1206 638h1v1h-1zM1207 637h3v1h-3zM1210 638h2v1h-2zM1212 639h1v1h-1zM1213 640h1v2h-1zM1214 642h1v1h-1zM1215 643h1v1h-1zM1216 644h1v1h-1zM1217 645h1v1h-1zM1218 646h1v1h-1zM1219 647h5v1h-5zM1224 645h1v2h-1zM1225 644h1v1h-1zM1226 642h1v2h-1zM1227 641h2v1h-2zM1229 642h2v1h-2zM1231 643h2v1h-2zM1233 642h2v1h-2zM1235 641h1v1h-1zM1236 640h1v1h-1zM1237 639h1v1h-1zM1238 638h1v1h-1zM1239 636h1v2h-1zM1240 634h1v2h-1zM1241 631h1v3h-1zM1242 629h1v2h-1zM1243 627h1v2h-1zM1244 629h1v3h-1zM1245 632h1v2h-1zM1246 634h1v3h-1zM1247 637h1v2h-1zM1248 638h1v1h-1zM1249 639h2v1h-2zM1251 640h1v1h-1zM1252 641h2v1h-2zM1254 642h1v1h-1zM1255 643h2v1h-2zM1257 644h2v1h-2zM1259 645h1v1h-1zM1260 644h1v1h-1zM1261 643h1v1h-1zM1262 642h1v1h-1zM1263 641h2v1h-2zM1265 642h2v1h-2zM1267 643h3v1h-3zM1270 642h1v1h-1zM1271 642h1v2h-1zM1272 644h1v4h-1zM1273 648h1v4h-1zM1274 652h1v4h-1zM1275 656h1v2h-1zM1276 653h1v3h-1zM1277 650h1v3h-1zM1278 647h1v3h-1zM1279 645h1v2h-1zM1280 646h2v1h-2zM1282 647h1v1h-1zM1283 648h1v1h-1zM1284 649h2v1h-2zM1286 650h1v1h-1zM1287 651h3v1h-3zM1290 650h2v1h-2zM1292 649h2v1h-2zM1294 648h1v1h-1zM1295 647h7v1h-7zM1302 648h4v1h-4zM1306 647h2v1h-2zM1308 646h2v1h-2zM1310 645h1v1h-1zM1311 644h3v1h-3zM1314 645h3v1h-3zM1317 646h2v1h-2zM1319 647h1v1h-1zM1320 648h2v1h-2zM1322 649h1v1h-1zM1323 650h2v1h-2zM1325 649h2v1h-2zM1327 648h3v1h-3zM1330 649h2v1h-2zM1332 650h1v1h-1zM1333 651h1v2h-1zM1334 653h1v1h-1zM1335 654h3v1h-3zM1338 653h1v1h-1z"/></g>
<text x="7" y="602" font-size="10" fill="#000" stroke="#000" stroke-width="0.12" textLength="68" lengthAdjust="spacingAndGlyphs">RSI(14) 37.8059</text>
<text x="1687" y="600" font-size="10" fill="#000" stroke="#000" stroke-width="0.12" textLength="15.2" lengthAdjust="spacingAndGlyphs">100</text>
<text x="1687" y="625" font-size="10" fill="#000" stroke="#000" stroke-width="0.12" textLength="10.2" lengthAdjust="spacingAndGlyphs">70</text>
<text x="1687" y="666" font-size="10" fill="#000" stroke="#000" stroke-width="0.12" textLength="10.2" lengthAdjust="spacingAndGlyphs">30</text>
<text x="1687" y="690" font-size="10" fill="#000" stroke="#000" stroke-width="0.12" textLength="5.1" lengthAdjust="spacingAndGlyphs">0</text>
</g>
<g id="macd" shape-rendering="crispEdges">
<path fill="#c0c0c0" d="M3 757h1v2h-1zM7 756h1v3h-1zM11 756h1v3h-1zM15 758h1v4h-1zM19 758h1v10h-1zM23 758h1v14h-1zM27 758h1v15h-1zM31 758h1v16h-1zM35 758h1v16h-1zM39 758h1v14h-1zM43 758h1v13h-1zM47 758h1v14h-1zM51 758h1v15h-1zM55 758h1v13h-1zM59 758h1v12h-1zM63 758h1v11h-1zM67 758h1v10h-1zM71 758h1v10h-1zM75 758h1v9h-1zM79 758h1v8h-1zM83 758h1v6h-1zM87 758h1v5h-1zM91 758h1v5h-1zM95 758h1v6h-1zM99 758h1v7h-1zM103 758h1v8h-1zM107 758h1v8h-1zM111 758h1v10h-1zM115 758h1v11h-1zM119 758h1v11h-1zM123 758h1v10h-1zM127 758h1v10h-1zM131 758h1v11h-1zM135 758h1v13h-1zM139 758h1v14h-1zM143 758h1v17h-1zM147 758h1v22h-1zM151 758h1v28h-1zM155 758h1v32h-1zM159 758h1v34h-1zM163 758h1v35h-1zM167 758h1v36h-1zM171 758h1v34h-1zM175 758h1v33h-1zM179 758h1v30h-1zM183 758h1v28h-1zM187 758h1v25h-1zM191 758h1v24h-1zM195 758h1v22h-1zM199 758h1v24h-1zM203 758h1v26h-1zM207 758h1v26h-1zM211 758h1v27h-1zM215 758h1v29h-1zM219 758h1v32h-1zM223 758h1v31h-1zM227 758h1v29h-1zM231 758h1v25h-1zM235 758h1v23h-1zM239 758h1v21h-1zM243 758h1v18h-1zM247 758h1v15h-1zM251 758h1v13h-1zM255 758h1v10h-1zM259 758h1v9h-1zM263 758h1v8h-1zM267 758h1v7h-1zM271 758h1v7h-1zM275 758h1v7h-1zM279 758h1v6h-1zM283 758h1v7h-1zM287 758h1v11h-1zM291 758h1v14h-1zM295 758h1v16h-1zM299 758h1v19h-1zM303 758h1v23h-1zM307 758h1v25h-1zM311 758h1v26h-1zM315 758h1v26h-1zM319 758h1v25h-1zM323 758h1v23h-1zM327 758h1v22h-1zM331 758h1v21h-1zM335 758h1v19h-1zM339 758h1v17h-1zM343 758h1v15h-1zM347 758h1v13h-1zM351 758h1v11h-1zM355 758h1v11h-1zM359 758h1v11h-1zM363 758h1v11h-1zM367 758h1v10h-1zM371 758h1v10h-1zM375 758h1v9h-1zM379 758h1v9h-1zM383 758h1v10h-1zM387 758h1v10h-1zM391 758h1v8h-1zM395 758h1v7h-1zM399 758h1v6h-1zM403 758h1v6h-1zM407 758h1v4h-1zM411 758h1v2h-1zM415 758h1v2h-1zM419 758h1v2h-1zM423 758h1v2h-1zM427 758h1v2h-1zM431 758h1v3h-1zM435 758h1v3h-1zM439 758h1v3h-1zM443 758h1v4h-1zM447 758h1v4h-1zM451 758h1v4h-1zM455 758h1v3h-1zM459 758h1v2h-1zM463 758h1v3h-1zM467 758h1v4h-1zM471 758h1v5h-1zM475 758h1v5h-1zM479 758h1v7h-1zM483 758h1v7h-1zM487 758h1v6h-1zM491 758h1v6h-1zM495 758h1v4h-1zM499 758h1v2h-1zM503 756h1v3h-1zM507 755h1v4h-1zM511 754h1v5h-1zM515 753h1v6h-1zM519 753h1v6h-1zM523 753h1v6h-1zM527 752h1v7h-1zM531 752h1v7h-1zM535 753h1v6h-1zM539 753h1v6h-1zM543 739h1v20h-1zM547 729h1v30h-1zM551 722h1v37h-1zM555 716h1v43h-1zM559 709h1v50h-1zM563 704h1v55h-1zM567 702h1v57h-1zM571 700h1v59h-1zM575 701h1v58h-1zM579 702h1v57h-1zM583 704h1v55h-1zM587 707h1v52h-1zM591 710h1v49h-1zM595 712h1v47h-1zM599 713h1v46h-1zM603 715h1v44h-1zM607 717h1v42h-1zM611 718h1v41h-1zM615 720h1v39h-1zM619 723h1v36h-1zM623 724h1v35h-1zM627 727h1v32h-1zM631 727h1v32h-1zM635 728h1v31h-1zM639 729h1v30h-1zM643 732h1v27h-1zM647 734h1v25h-1zM651 735h1v24h-1zM655 737h1v22h-1zM659 738h1v21h-1zM663 739h1v20h-1zM667 743h1v16h-1zM671 746h1v13h-1zM675 752h1v7h-1zM679 756h1v3h-1zM683 758h1v2h-1zM687 758h1v4h-1zM691 758h1v5h-1zM695 758h1v6h-1zM699 758h1v7h-1zM703 758h1v8h-1zM707 758h1v9h-1zM711 758h1v10h-1zM715 758h1v9h-1zM719 758h1v8h-1zM723 758h1v8h-1zM727 758h1v6h-1zM731 758h1v5h-1zM735 758h1v4h-1zM739 758h1v4h-1zM743 758h1v5h-1zM747 758h1v5h-1zM751 758h1v5h-1zM755 758h1v5h-1zM759 758h1v5h-1zM763 758h1v5h-1zM767 758h1v5h-1zM771 758h1v5h-1zM775 758h1v5h-1zM779 758h1v4h-1zM783 758h1v4h-1zM787 758h1v3h-1zM791 758h1v4h-1zM795 758h1v5h-1zM799 758h1v4h-1zM803 758h1v4h-1zM807 758h1v2h-1zM811 758h1v2h-1zM815 758h1v1h-1zM819 756h1v3h-1zM823 750h1v9h-1zM827 745h1v14h-1zM831 731h1v28h-1zM835 724h1v35h-1zM839 717h1v42h-1zM843 713h1v46h-1zM847 708h1v51h-1zM851 705h1v54h-1zM855 703h1v56h-1zM859 708h1v51h-1zM863 710h1v49h-1zM867 712h1v47h-1zM871 715h1v44h-1zM875 718h1v41h-1zM879 719h1v40h-1zM883 719h1v40h-1zM887 721h1v38h-1zM891 720h1v39h-1zM895 717h1v42h-1zM899 715h1v44h-1zM903 711h1v48h-1zM907 709h1v50h-1zM911 707h1v52h-1zM915 709h1v50h-1zM919 709h1v50h-1zM923 709h1v50h-1zM927 709h1v50h-1zM931 709h1v50h-1zM935 713h1v46h-1zM939 717h1v42h-1zM943 722h1v37h-1zM947 728h1v31h-1zM951 731h1v28h-1zM955 735h1v24h-1zM959 738h1v21h-1zM963 744h1v15h-1zM967 752h1v7h-1zM971 757h1v2h-1zM975 758h1v3h-1zM979 758h1v3h-1zM983 758h1v3h-1zM987 758h1v2h-1zM991 758h1v2h-1zM995 757h1v2h-1zM999 756h1v3h-1zM1003 754h1v5h-1zM1007 752h1v7h-1zM1011 751h1v8h-1zM1015 749h1v10h-1zM1019 747h1v12h-1zM1023 746h1v13h-1zM1027 745h1v14h-1zM1031 744h1v15h-1zM1035 745h1v14h-1zM1039 747h1v12h-1zM1043 750h1v9h-1zM1047 750h1v9h-1zM1051 748h1v11h-1zM1055 748h1v11h-1zM1059 751h1v8h-1zM1063 755h1v4h-1zM1067 758h1v2h-1zM1071 758h1v5h-1zM1075 758h1v7h-1zM1079 758h1v7h-1zM1083 758h1v8h-1zM1087 758h1v9h-1zM1091 758h1v10h-1zM1095 758h1v11h-1zM1099 758h1v12h-1zM1103 758h1v13h-1zM1107 758h1v13h-1zM1111 758h1v14h-1zM1115 758h1v15h-1zM1119 758h1v15h-1zM1123 758h1v14h-1zM1127 758h1v15h-1zM1131 758h1v16h-1zM1135 758h1v17h-1zM1139 758h1v17h-1zM1143 758h1v18h-1zM1147 758h1v21h-1zM1151 758h1v23h-1zM1155 758h1v26h-1zM1159 758h1v27h-1zM1163 758h1v28h-1zM1167 758h1v26h-1zM1171 758h1v25h-1zM1175 758h1v22h-1zM1179 758h1v20h-1zM1183 758h1v20h-1zM1187 758h1v19h-1zM1191 758h1v17h-1zM1195 758h1v15h-1zM1199 758h1v12h-1zM1203 758h1v11h-1zM1207 758h1v8h-1zM1211 758h1v6h-1zM1215 758h1v6h-1zM1219 758h1v7h-1zM1223 758h1v7h-1zM1227 758h1v6h-1zM1231 758h1v6h-1zM1235 758h1v5h-1zM1239 758h1v3h-1zM1243 757h1v2h-1zM1247 756h1v3h-1zM1251 756h1v3h-1zM1255 757h1v2h-1zM1259 758h1v1h-1zM1263 758h1v1h-1zM1267 758h1v1h-1zM1271 758h1v1h-1zM1275 758h1v6h-1zM1279 758h1v7h-1zM1283 758h1v8h-1zM1287 758h1v10h-1zM1291 758h1v11h-1zM1295 758h1v11h-1zM1299 758h1v11h-1zM1303 758h1v11h-1zM1307 758h1v11h-1zM1311 758h1v10h-1zM1315 758h1v10h-1zM1319 758h1v9h-1zM1323 758h1v10h-1zM1327 758h1v10h-1zM1331 758h1v10h-1zM1335 758h1v12h-1zM1339 758h1v12h-1z"/>
<path fill="#ff0000" d="M3 759h3v1h-3zM9 758h3v1h-3zM15 758h3v1h-3zM21 759h2v1h-2zM23 760h1v1h-1zM27 761h2v1h-2zM29 762h1v1h-1zM33 764h2v1h-2zM35 765h1v1h-1zM39 766h2v1h-2zM41 767h1v1h-1zM45 768h1v1h-1zM46 769h2v1h-2zM51 771h3v1h-3zM57 771h3v1h-3zM63 770h3v1h-3zM69 770h1v1h-1zM70 769h2v1h-2zM75 768h3v1h-3zM81 768h1v1h-1zM82 767h2v1h-2zM87 766h3v1h-3zM93 765h1v1h-1zM94 764h2v1h-2zM99 764h3v1h-3zM105 764h1v1h-1zM106 763h2v1h-2zM111 763h3v1h-3zM117 764h3v1h-3zM123 765h3v1h-3zM129 766h3v1h-3zM135 767h3v1h-3zM141 767h1v1h-1zM142 768h2v1h-2zM147 770h3v1h-3zM153 772h1v1h-1zM154 773h1v1h-1zM155 774h1v1h-1zM159 776h1v1h-1zM160 777h2v1h-2zM165 780h1v1h-1zM166 781h1v1h-1zM167 782h1v1h-1zM171 784h1v1h-1zM172 785h2v1h-2zM177 787h1v1h-1zM178 788h2v1h-2zM183 789h3v1h-3zM189 788h1v1h-1zM190 787h2v1h-2zM195 786h3v1h-3zM201 785h1v1h-1zM202 784h2v1h-2zM207 783h3v1h-3zM213 782h3v1h-3zM219 783h3v1h-3zM225 783h1v1h-1zM226 784h2v1h-2zM231 784h3v1h-3zM237 784h3v1h-3zM243 783h2v1h-2zM245 782h1v1h-1zM249 781h1v1h-1zM250 780h2v1h-2zM255 777h2v1h-2zM257 776h1v1h-1zM261 774h1v1h-1zM262 773h1v1h-1zM263 772h1v1h-1zM267 770h3v1h-3zM273 768h2v1h-2zM275 767h1v1h-1zM279 766h3v1h-3zM285 765h3v1h-3zM291 765h3v1h-3zM297 766h1v1h-1zM298 767h2v1h-2zM303 769h2v1h-2zM305 770h1v1h-1zM309 772h2v1h-2zM311 773h1v1h-1zM315 775h2v1h-2zM317 776h1v1h-1zM321 778h2v1h-2zM323 779h1v1h-1zM327 779h3v1h-3zM333 780h3v1h-3zM339 779h3v1h-3zM345 778h1v1h-1zM346 777h2v1h-2zM351 775h3v1h-3zM357 773h2v1h-2zM359 772h1v1h-1zM363 771h3v1h-3zM369 770h1v1h-1zM370 769h2v1h-2zM375 768h3v1h-3zM381 767h3v1h-3zM387 767h3v1h-3zM393 766h3v1h-3zM399 765h3v1h-3zM405 765h1v1h-1zM406 764h2v1h-2zM411 763h3v1h-3zM417 763h1v1h-1zM418 762h2v1h-2zM423 761h3v1h-3zM429 760h3v1h-3zM435 759h3v1h-3zM441 759h3v1h-3zM447 759h3v1h-3zM453 759h1v1h-1zM454 760h2v1h-2zM459 760h3v1h-3zM465 760h3v1h-3zM471 760h3v1h-3zM477 760h1v1h-1zM478 761h2v1h-2zM483 761h3v1h-3zM489 761h3v1h-3zM495 762h3v1h-3zM501 761h3v1h-3zM507 760h3v1h-3zM513 759h1v1h-1zM514 758h2v1h-2zM519 757h3v1h-3zM525 756h1v1h-1zM526 755h2v1h-2zM531 754h3v1h-3zM537 753h3v1h-3zM543 751h1v1h-1zM544 750h2v1h-2zM549 747h1v1h-1zM550 746h1v1h-1zM551 745h1v1h-1zM555 741h1v1h-1zM556 740h1v1h-1zM557 739h1v1h-1zM560 735h1v1h-1zM560 734h1v1h-1zM561 733h1v1h-1zM564 729h1v1h-1zM565 728h1v1h-1zM565 727h1v1h-1zM568 723h1v1h-1zM569 722h1v1h-1zM570 721h1v1h-1zM572 717h1v1h-1zM573 716h1v1h-1zM574 715h1v1h-1zM577 711h1v1h-1zM578 710h1v1h-1zM579 709h1v1h-1zM583 706h2v1h-2zM585 705h1v1h-1zM589 704h3v1h-3zM595 704h3v1h-3zM601 706h2v1h-2zM603 707h1v1h-1zM607 708h2v1h-2zM609 709h1v1h-1zM613 711h2v1h-2zM615 712h1v1h-1zM619 715h3v1h-3zM625 717h2v1h-2zM627 718h1v1h-1zM631 720h2v1h-2zM633 721h1v1h-1zM637 722h1v1h-1zM638 723h2v1h-2zM643 725h2v1h-2zM645 726h1v1h-1zM649 727h1v1h-1zM650 728h2v1h-2zM655 730h3v1h-3zM661 732h2v1h-2zM663 733h1v1h-1zM667 735h3v1h-3zM673 737h1v1h-1zM674 738h1v1h-1zM675 739h1v1h-1zM679 742h2v1h-2zM681 743h1v1h-1zM685 745h1v1h-1zM686 746h1v1h-1zM687 747h1v1h-1zM691 750h1v1h-1zM692 751h2v1h-2zM697 754h1v1h-1zM698 755h1v1h-1zM699 756h1v1h-1zM703 758h2v1h-2zM705 759h1v1h-1zM709 761h2v1h-2zM711 762h1v1h-1zM715 763h3v1h-3zM721 764h3v1h-3zM727 764h3v1h-3zM733 764h3v1h-3zM739 763h3v1h-3zM745 763h1v1h-1zM746 762h2v1h-2zM751 762h3v1h-3zM757 762h1v1h-1zM758 761h2v1h-2zM763 761h3v1h-3zM769 761h3v1h-3zM775 762h3v1h-3zM781 762h1v1h-1zM782 761h2v1h-2zM787 761h3v1h-3zM793 761h3v1h-3zM799 761h3v1h-3zM805 761h1v1h-1zM806 760h2v1h-2zM811 760h3v1h-3zM817 760h1v1h-1zM818 759h2v1h-2zM823 758h2v1h-2zM825 757h1v1h-1zM829 755h1v1h-1zM830 754h1v1h-1zM831 753h1v1h-1zM835 749h1v1h-1zM836 748h1v1h-1zM837 747h1v1h-1zM840 743h1v1h-1zM841 742h1v1h-1zM841 741h1v1h-1zM844 737h1v1h-1zM845 736h1v1h-1zM846 735h1v1h-1zM848 731h1v1h-1zM849 730h1v1h-1zM850 729h1v1h-1zM852 725h1v1h-1zM853 724h1v1h-1zM854 723h1v1h-1zM857 719h1v1h-1zM857 718h1v1h-1zM858 717h1v1h-1zM862 714h1v1h-1zM863 713h2v1h-2zM868 711h1v1h-1zM869 710h2v1h-2zM874 710h3v1h-3zM880 710h2v1h-2zM882 711h1v1h-1zM886 712h1v1h-1zM887 713h2v1h-2zM892 715h2v1h-2zM894 716h1v1h-1zM898 717h3v1h-3zM904 717h2v1h-2zM906 716h1v1h-1zM910 715h3v1h-3zM916 714h2v1h-2zM918 713h1v1h-1zM922 712h1v1h-1zM923 711h2v1h-2zM928 710h2v1h-2zM930 709h1v1h-1zM934 709h3v1h-3zM940 710h2v1h-2zM942 711h1v1h-1zM946 712h1v1h-1zM947 713h1v1h-1zM948 714h1v1h-1zM952 717h2v1h-2zM954 718h1v1h-1zM958 721h1v1h-1zM959 722h1v1h-1zM960 723h1v1h-1zM964 727h1v1h-1zM965 728h1v1h-1zM965 729h1v1h-1zM969 733h1v1h-1zM970 734h1v1h-1zM971 735h1v1h-1zM974 739h1v1h-1zM975 740h1v1h-1zM976 741h1v1h-1zM980 745h1v1h-1zM981 746h1v1h-1zM982 747h1v1h-1zM986 750h1v1h-1zM987 751h1v1h-1zM988 752h1v1h-1zM992 754h1v1h-1zM993 755h2v1h-2zM998 757h3v1h-3zM1004 758h2v1h-2zM1006 757h1v1h-1zM1010 756h3v1h-3zM1016 755h1v1h-1zM1017 754h2v1h-2zM1022 752h3v1h-3zM1028 750h2v1h-2zM1030 749h1v1h-1zM1034 748h3v1h-3zM1040 747h3v1h-3zM1046 746h3v1h-3zM1052 746h3v1h-3zM1058 747h3v1h-3zM1064 748h1v1h-1zM1065 749h2v1h-2zM1070 751h1v1h-1zM1071 752h2v1h-2zM1076 753h1v1h-1zM1077 754h2v1h-2zM1082 756h1v1h-1zM1083 757h2v1h-2zM1088 759h1v1h-1zM1089 760h2v1h-2zM1094 762h1v1h-1zM1095 763h2v1h-2zM1100 764h2v1h-2zM1102 765h1v1h-1zM1106 766h3v1h-3zM1112 767h2v1h-2zM1114 768h1v1h-1zM1118 769h3v1h-3zM1124 769h2v1h-2zM1126 770h1v1h-1zM1130 770h3v1h-3zM1136 771h3v1h-3zM1142 772h3v1h-3zM1148 773h2v1h-2zM1150 774h1v1h-1zM1154 775h3v1h-3zM1160 776h1v1h-1zM1161 777h2v1h-2zM1166 779h3v1h-3zM1172 780h2v1h-2zM1174 781h1v1h-1zM1178 781h3v1h-3zM1184 781h2v1h-2zM1186 780h1v1h-1zM1190 779h3v1h-3zM1196 778h1v1h-1zM1197 777h2v1h-2zM1202 775h1v1h-1zM1203 774h2v1h-2zM1208 773h1v1h-1zM1209 772h2v1h-2zM1214 770h1v1h-1zM1215 769h2v1h-2zM1220 768h1v1h-1zM1221 767h2v1h-2zM1226 765h3v1h-3zM1232 764h2v1h-2zM1234 763h1v1h-1zM1238 762h3v1h-3zM1244 762h2v1h-2zM1246 761h1v1h-1zM1250 760h3v1h-3zM1256 759h2v1h-2zM1258 758h1v1h-1zM1262 758h3v1h-3zM1268 757h3v1h-3zM1274 757h3v1h-3zM1280 758h2v1h-2zM1282 759h1v1h-1zM1286 760h3v1h-3zM1292 762h2v1h-2zM1294 763h1v1h-1zM1298 764h3v1h-3zM1304 765h2v1h-2zM1306 766h1v1h-1zM1310 767h3v1h-3zM1316 767h3v1h-3zM1322 767h3v1h-3zM1328 767h3v1h-3zM1334 767h3v1h-3z"/>
</g>
<text x="7" y="708" font-size="10" fill="#000" stroke="#000" stroke-width="0.12" textLength="154" lengthAdjust="spacingAndGlyphs">MACD(12,26,9) -0.011135 -0.009468</text>
<text x="1687" y="706" font-size="10" fill="#000" stroke="#000" stroke-width="0.12" textLength="38.1" lengthAdjust="spacingAndGlyphs">0.063184</text>
<text x="1687" y="762" font-size="10" fill="#000" stroke="#000" stroke-width="0.12" textLength="17.8" lengthAdjust="spacingAndGlyphs">0.00</text>
<text x="1687" y="795" font-size="10" fill="#000" stroke="#000" stroke-width="0.12" textLength="41.1" lengthAdjust="spacingAndGlyphs">-0.040355</text>
<rect x="1684" y="591" width="1" height="1" fill="#000" shape-rendering="crispEdges"/>
<rect x="1684" y="692" width="1" height="1" fill="#000" shape-rendering="crispEdges"/>
<rect x="1684" y="697" width="1" height="1" fill="#000" shape-rendering="crispEdges"/>
<rect x="1684" y="758" width="1" height="1" fill="#000" shape-rendering="crispEdges"/>
<rect x="1684" y="797" width="1" height="1" fill="#000" shape-rendering="crispEdges"/>
<g id="dates">
<rect x="3" y="799" width="1" height="3" fill="#000" shape-rendering="crispEdges"/>
<text x="2" y="811" font-size="10" fill="#000" stroke="#000" stroke-width="0.12" textLength="53.0" lengthAdjust="spacingAndGlyphs">29 Nov 2018</text>
<rect x="67" y="799" width="1" height="3" fill="#000" shape-rendering="crispEdges"/>
<text x="66" y="811" font-size="10" fill="#000" stroke="#000" stroke-width="0.12" textLength="53.0" lengthAdjust="spacingAndGlyphs">18 Dec 2018</text>
<rect x="131" y="799" width="1" height="3" fill="#000" shape-rendering="crispEdges"/>
<text x="130" y="811" font-size="10" fill="#000" stroke="#000" stroke-width="0.12" textLength="46.3" lengthAdjust="spacingAndGlyphs">5 Jan 2019</text>
<rect x="195" y="799" width="1" height="3" fill="#000" shape-rendering="crispEdges"/>
<text x="194" y="811" font-size="10" fill="#000" stroke="#000" stroke-width="0.12" textLength="51.5" lengthAdjust="spacingAndGlyphs">24 Jan 2019</text>
<rect x="259" y="799" width="1" height="3" fill="#000" shape-rendering="crispEdges"/>
<text x="258" y="811" font-size="10" fill="#000" stroke="#000" stroke-width="0.12" textLength="52.5" lengthAdjust="spacingAndGlyphs">12 Feb 2019</text>
<rect x="323" y="799" width="1" height="3" fill="#000" shape-rendering="crispEdges"/>
<text x="322" y="811" font-size="10" fill="#000" stroke="#000" stroke-width="0.12" textLength="47.3" lengthAdjust="spacingAndGlyphs">2 Mar 2019</text>
<rect x="387" y="799" width="1" height="3" fill="#000" shape-rendering="crispEdges"/>
<text x="386" y="811" font-size="10" fill="#000" stroke="#000" stroke-width="0.12" textLength="52.5" lengthAdjust="spacingAndGlyphs">21 Mar 2019</text>
<rect x="451" y="799" width="1" height="3" fill="#000" shape-rendering="crispEdges"/>
<text x="450" y="811" font-size="10" fill="#000" stroke="#000" stroke-width="0.12" textLength="45.2" lengthAdjust="spacingAndGlyphs">9 Apr 2019</text>
<rect x="515" y="799" width="1" height="3" fill="#000" shape-rendering="crispEdges"/>
<text x="514" y="811" font-size="10" fill="#000" stroke="#000" stroke-width="0.12" textLength="50.4" lengthAdjust="spacingAndGlyphs">29 Apr 2019</text>
<rect x="579" y="799" width="1" height="3" fill="#000" shape-rendering="crispEdges"/>
<text x="578" y="811" font-size="10" fill="#000" stroke="#000" stroke-width="0.12" textLength="54.1" lengthAdjust="spacingAndGlyphs">23 May 2019</text>
<rect x="643" y="799" width="1" height="3" fill="#000" shape-rendering="crispEdges"/>
<text x="642" y="811" font-size="10" fill="#000" stroke="#000" stroke-width="0.12" textLength="50.8" lengthAdjust="spacingAndGlyphs">11 Jun 2019</text>
<rect x="707" y="799" width="1" height="3" fill="#000" shape-rendering="crispEdges"/>
<text x="706" y="811" font-size="10" fill="#000" stroke="#000" stroke-width="0.12" textLength="51.5" lengthAdjust="spacingAndGlyphs">29 Jun 2019</text>
<rect x="771" y="799" width="1" height="3" fill="#000" shape-rendering="crispEdges"/>
<text x="770" y="811" font-size="10" fill="#000" stroke="#000" stroke-width="0.12" textLength="48.3" lengthAdjust="spacingAndGlyphs">18 Jul 2019</text>
<rect x="835" y="799" width="1" height="3" fill="#000" shape-rendering="crispEdges"/>
<text x="834" y="811" font-size="10" fill="#000" stroke="#000" stroke-width="0.12" textLength="47.3" lengthAdjust="spacingAndGlyphs">6 Aug 2019</text>
<rect x="899" y="799" width="1" height="3" fill="#000" shape-rendering="crispEdges"/>
<text x="898" y="811" font-size="10" fill="#000" stroke="#000" stroke-width="0.12" textLength="52.5" lengthAdjust="spacingAndGlyphs">24 Aug 2019</text>
<rect x="963" y="799" width="1" height="3" fill="#000" shape-rendering="crispEdges"/>
<text x="962" y="811" font-size="10" fill="#000" stroke="#000" stroke-width="0.12" textLength="53.0" lengthAdjust="spacingAndGlyphs">12 Sep 2019</text>
<rect x="1027" y="799" width="1" height="3" fill="#000" shape-rendering="crispEdges"/>
<text x="1026" y="811" font-size="10" fill="#000" stroke="#000" stroke-width="0.12" textLength="45.7" lengthAdjust="spacingAndGlyphs">1 Oct 2019</text>
<rect x="1091" y="799" width="1" height="3" fill="#000" shape-rendering="crispEdges"/>
<text x="1090" y="811" font-size="10" fill="#000" stroke="#000" stroke-width="0.12" textLength="50.9" lengthAdjust="spacingAndGlyphs">19 Oct 2019</text>
<rect x="1155" y="799" width="1" height="3" fill="#000" shape-rendering="crispEdges"/>
<text x="1154" y="811" font-size="10" fill="#000" stroke="#000" stroke-width="0.12" textLength="47.8" lengthAdjust="spacingAndGlyphs">7 Nov 2019</text>
<rect x="1219" y="799" width="1" height="3" fill="#000" shape-rendering="crispEdges"/>
<text x="1218" y="811" font-size="10" fill="#000" stroke="#000" stroke-width="0.12" textLength="53.0" lengthAdjust="spacingAndGlyphs">26 Nov 2019</text>
<rect x="1283" y="799" width="1" height="3" fill="#000" shape-rendering="crispEdges"/>
<text x="1282" y="811" font-size="10" fill="#000" stroke="#000" stroke-width="0.12" textLength="53.0" lengthAdjust="spacingAndGlyphs">14 Dec 2019</text>
</g>
<g id="tabs">
<rect x="0" y="819" width="1727" height="1" fill="#e3e3e3" shape-rendering="crispEdges"/>
<rect x="0" y="820" width="1727" height="1" fill="#f0f0f0" shape-rendering="crispEdges"/>
<rect x="0" y="822" width="1727" height="19" fill="#f0f0f0" shape-rendering="crispEdges"/>
<rect x="0" y="841" width="1727" height="2" fill="#fafafa" shape-rendering="crispEdges"/>
<rect x="0" y="821" width="1727" height="1" fill="#000" shape-rendering="crispEdges"/>
<rect x="417" y="820" width="102" height="19" fill="#fff" shape-rendering="crispEdges"/>
<rect x="416" y="821" width="1" height="19" fill="#000" shape-rendering="crispEdges"/>
<rect x="519" y="821" width="1" height="19" fill="#000" shape-rendering="crispEdges"/>
<rect x="416" y="839" width="104" height="1" fill="#000" shape-rendering="crispEdges"/>
<rect x="417" y="840" width="104" height="1" fill="#b0b0b0" shape-rendering="crispEdges"/>
<rect x="520" y="823" width="1" height="18" fill="#c8c8c8" shape-rendering="crispEdges"/>
<text x="16.25" y="835.5" font-size="12" fill="#808080" textLength="79.4" lengthAdjust="spacingAndGlyphs">EURUSD,Daily</text>
<text x="118" y="835.5" font-size="12" fill="#808080" textLength="79" lengthAdjust="spacingAndGlyphs">USDCHF,Daily</text>
<text x="219.5" y="835.5" font-size="12" fill="#808080" textLength="81.3" lengthAdjust="spacingAndGlyphs">AUDUSD,Daily</text>
<text x="323.25" y="835.5" font-size="12" fill="#808080" textLength="80.5" lengthAdjust="spacingAndGlyphs">USDCAD,Daily</text>
<text x="426.25" y="835.5" font-size="12" fill="#000" textLength="82.5" lengthAdjust="spacingAndGlyphs">USDCNH,Daily</text>
<rect x="108" y="824" width="1" height="13" fill="#808080" shape-rendering="crispEdges"/>
<rect x="208" y="824" width="1" height="13" fill="#808080" shape-rendering="crispEdges"/>
<rect x="312" y="824" width="1" height="13" fill="#808080" shape-rendering="crispEdges"/>
<path d="M1702.3 826.8 L1702.3 833.4 L1698.6 830.1 Z" fill="#a0a0a0"/><path d="M1717.7 826.8 L1717.7 833.4 L1721.4 830.1 Z" fill="#a0a0a0"/>
</g>
</svg></body></html>
